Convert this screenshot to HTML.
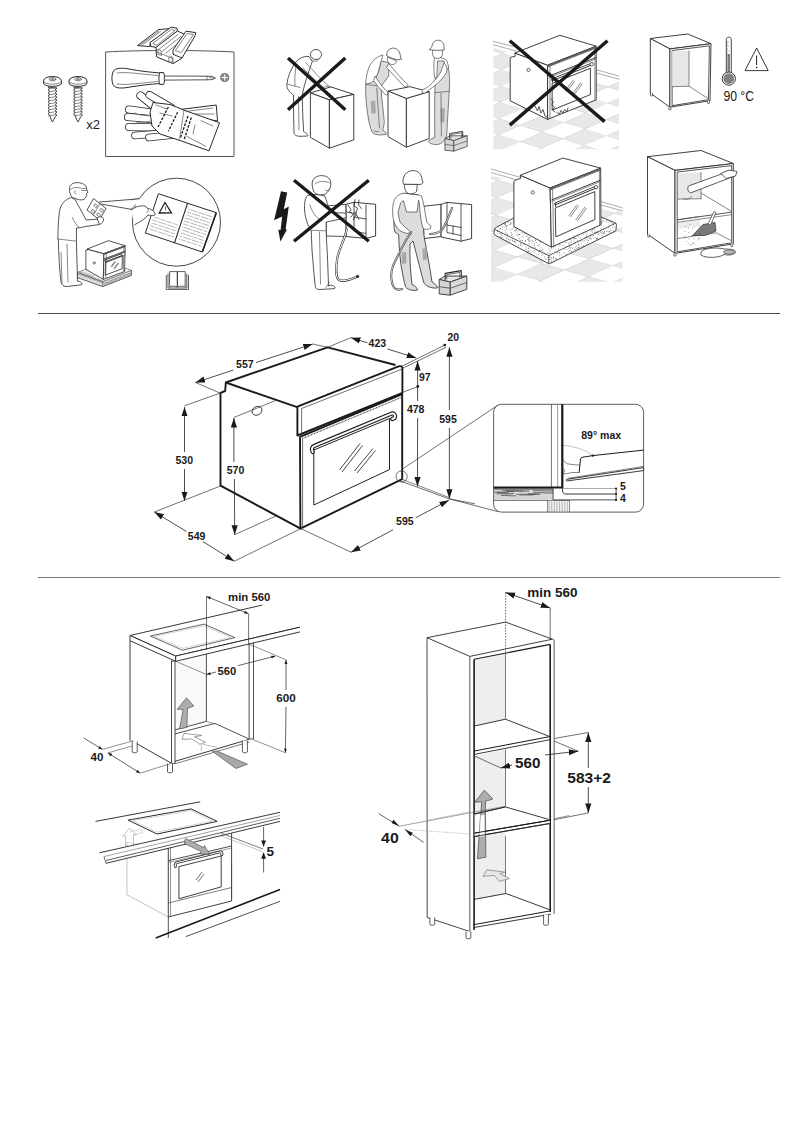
<!DOCTYPE html>
<html><head><meta charset="utf-8"><title>Installation</title>
<style>
html,body{margin:0;padding:0;background:#fff;width:802px;height:1134px;overflow:hidden}
svg{position:absolute;left:0;top:0;display:block}
text{font-family:"Liberation Sans",sans-serif}
.b{font-weight:bold;fill:#1a1a1a}
.n{fill:#1a1a1a}
.l{stroke:#2a2a2a;stroke-width:1;fill:none;stroke-linejoin:round;stroke-linecap:round}
.w{stroke:#2a2a2a;stroke-width:1;fill:#fff;stroke-linejoin:round}
.t{stroke:#555;stroke-width:.7;fill:none;stroke-linejoin:round;stroke-linecap:round}
.k{stroke:#1a1a1a;stroke-width:2;fill:none;stroke-linejoin:round;stroke-linecap:round}
.x{stroke:#1a1a1a;stroke-width:3.4;fill:none;stroke-linecap:butt}
</style></head>
<body>
<svg width="802" height="1134" viewBox="0 0 802 1134">
<defs><pattern id="fl3" patternUnits="userSpaceOnUse" width="20.0" height="20.0" patternTransform="matrix(2.1900 -0.9600 2.1200 0.6700 519.5 141.6)"><rect width="20" height="20" fill="#fff"/><rect width="10" height="10" fill="#e8e8e8"/><rect x="10" y="10" width="10" height="10" fill="#e8e8e8"/><path d="M0,0 H20 M0,10 H20 M0,0 V20 M10,0 V20" stroke="#c8c8c8" stroke-width=".3" fill="none"/></pattern><pattern id="fl7" patternUnits="userSpaceOnUse" width="20.0" height="20.0" patternTransform="matrix(2.4300 -1.0900 2.3500 0.6600 516.7 274.3)"><rect width="20" height="20" fill="#fff"/><rect width="10" height="10" fill="#e8e8e8"/><rect x="10" y="10" width="10" height="10" fill="#e8e8e8"/><path d="M0,0 H20 M0,10 H20 M0,0 V20 M10,0 V20" stroke="#c8c8c8" stroke-width=".3" fill="none"/></pattern><pattern id="spk" patternUnits="userSpaceOnUse" width="5" height="5"><rect width="5" height="5" fill="#fff"/><rect x="1.4" y="0.7" width=".6" height=".6" fill="#333"/><rect x="2.9" y="0.3" width=".6" height=".6" fill="#333"/><rect x="2.4" y="1.6" width=".6" height=".6" fill="#333"/><rect x="0.3" y="2.2" width=".6" height=".6" fill="#333"/><rect x="0.2" y="1.9" width=".6" height=".6" fill="#333"/><rect x="0.3" y="0.4" width=".6" height=".6" fill="#333"/></pattern><clipPath id="slabc"><path d="M496,227.4 L513,218.5 L560,200.5 L614.8,222.6 C616.5,223.3 616.6,224.5 616.4,225.5 L615.9,230.9 L549.6,263.7 L548.7,263.7 L495.8,235.6 C494,234.6 493.8,233 494,231.5 L494.4,229.5 C494.7,228.5 495.2,227.9 496,227.4 Z"/></clipPath><clipPath id="pgL"><path d="M159.7,197.6 L184.1,205.8 L173.1,239.1 L148.8,230.6 Z"/></clipPath><clipPath id="pgR"><path d="M188.7,207.3 L212.9,215.1 L201.2,248.1 L177.7,240.7 Z"/></clipPath><marker id="ah" viewBox="0 0 10 10" refX="10" refY="5" markerWidth="9.5" markerHeight="9.5" orient="auto-start-reverse" markerUnits="userSpaceOnUse"><path d="M0,1.75 L10,5 L0,8.25 z" fill="#1a1a1a"/></marker><marker id="ahs" viewBox="0 0 10 10" refX="10" refY="5" markerWidth="4.2" markerHeight="4.2" orient="auto-start-reverse" markerUnits="userSpaceOnUse"><path d="M0,1.5 L10,5 L0,8.5 z" fill="#1a1a1a"/></marker></defs>
<rect x="38" y="313" width="742" height="1" fill="#474747"/>
<rect x="38" y="577" width="742" height="1" fill="#777777"/>
<g transform="translate(52.5,76)"><path class="w" d="M-9,5 C-9,-1 9,-1 9,5 L9,7 C9,11.5 -9,11.5 -9,7 Z"/><path class="t" d="M-8.5,6 C-6,9 6,9 8.5,6"/><ellipse class="t" cx="0" cy="3.2" rx="3.4" ry="1.7"/><path class="t" d="M-2,3.2 H2 M0,2 V4.4"/><path class="w" d="M-4.4,11 L-2.7,12.5 L-4.4,14 L-2.7,15.5 L-4.4,17 L-2.7,18.5 L-4.4,20 L-2.7,21.5 L-4.4,23 L-2.7,24.5 L-4.4,26 L-2.7,27.5 L-4.4,29 L-2.7,30.5 L-4.4,32 L-2.7,33.5 L-4.4,35 L-2.7,36.5 L-4.4,38 L-2.7,39.5 L-1.6,43 L0,46 L1.6,43 L2.7,40.7 L4.4,39.2 L2.7,37.7 L4.4,36.2 L2.7,34.7 L4.4,33.2 L2.7,31.7 L4.4,30.2 L2.7,28.7 L4.4,27.2 L2.7,25.7 L4.4,24.2 L2.7,22.7 L4.4,21.2 L2.7,19.7 L4.4,18.2 L2.7,16.7 L4.4,15.2 L2.7,13.7 L4.4,12.2 Z" style="stroke-width:.85;stroke:#222"/><line class="t" x1="-3.8" y1="12.8" x2="3.8" y2="11.6" /><line class="t" x1="-3.8" y1="15.8" x2="3.8" y2="14.6" /><line class="t" x1="-3.8" y1="18.8" x2="3.8" y2="17.6" /><line class="t" x1="-3.8" y1="21.8" x2="3.8" y2="20.6" /><line class="t" x1="-3.8" y1="24.8" x2="3.8" y2="23.6" /><line class="t" x1="-3.8" y1="27.8" x2="3.8" y2="26.6" /><line class="t" x1="-3.8" y1="30.8" x2="3.8" y2="29.6" /><line class="t" x1="-3.8" y1="33.8" x2="3.8" y2="32.6" /><line class="t" x1="-3.8" y1="36.8" x2="3.8" y2="35.6" /><line class="t" x1="-3.8" y1="39.8" x2="3.8" y2="38.6" /></g>
<g transform="translate(78,76)"><path class="w" d="M-9,5 C-9,-1 9,-1 9,5 L9,7 C9,11.5 -9,11.5 -9,7 Z"/><path class="t" d="M-8.5,6 C-6,9 6,9 8.5,6"/><ellipse class="t" cx="0" cy="3.2" rx="3.4" ry="1.7"/><path class="t" d="M-2,3.2 H2 M0,2 V4.4"/><path class="w" d="M-4.4,11 L-2.7,12.5 L-4.4,14 L-2.7,15.5 L-4.4,17 L-2.7,18.5 L-4.4,20 L-2.7,21.5 L-4.4,23 L-2.7,24.5 L-4.4,26 L-2.7,27.5 L-4.4,29 L-2.7,30.5 L-4.4,32 L-2.7,33.5 L-4.4,35 L-2.7,36.5 L-4.4,38 L-2.7,39.5 L-1.6,43 L0,46 L1.6,43 L2.7,40.7 L4.4,39.2 L2.7,37.7 L4.4,36.2 L2.7,34.7 L4.4,33.2 L2.7,31.7 L4.4,30.2 L2.7,28.7 L4.4,27.2 L2.7,25.7 L4.4,24.2 L2.7,22.7 L4.4,21.2 L2.7,19.7 L4.4,18.2 L2.7,16.7 L4.4,15.2 L2.7,13.7 L4.4,12.2 Z" style="stroke-width:.85;stroke:#222"/><line class="t" x1="-3.8" y1="12.8" x2="3.8" y2="11.6" /><line class="t" x1="-3.8" y1="15.8" x2="3.8" y2="14.6" /><line class="t" x1="-3.8" y1="18.8" x2="3.8" y2="17.6" /><line class="t" x1="-3.8" y1="21.8" x2="3.8" y2="20.6" /><line class="t" x1="-3.8" y1="24.8" x2="3.8" y2="23.6" /><line class="t" x1="-3.8" y1="27.8" x2="3.8" y2="26.6" /><line class="t" x1="-3.8" y1="30.8" x2="3.8" y2="29.6" /><line class="t" x1="-3.8" y1="33.8" x2="3.8" y2="32.6" /><line class="t" x1="-3.8" y1="36.8" x2="3.8" y2="35.6" /><line class="t" x1="-3.8" y1="39.8" x2="3.8" y2="38.6" /></g>
<text class="n" x="86.2" y="128.9" font-size="13.6" text-anchor="start"  textLength="13.8" lengthAdjust="spacingAndGlyphs">x2</text>
<path class="l" d="M106,52 C140,50 200,50 234,52 L234,156.5 L106,156.5 Z" style="stroke:#555"/>
<path class="w" d="M137.5,45.6 L158.5,29.6 L170,28.6 L150.3,42.6 L149.8,46.6 Z" /><line class="t" x1="140.5" y1="44.8" x2="158.8" y2="31.2" /><line class="t" x1="142.5" y1="44.8" x2="160.5" y2="31.5" /><path class="w" d="M150.3,42.4 L171,27.2 L177,28.2 L177.4,31 L171,36 L157.2,47.6 L150.8,46.4 Z" /><path class="t" d="M153,43.2 L171.2,29.6 L175.2,30.4 L157,45 Z" /><path class="w" d="M156.2,47.2 L177.4,31 L186,35 L182,58.2 L173,63.6 L156.8,57 L156.2,52 Z" /><line class="t" x1="158" y1="50" x2="178" y2="34.5" /><line class="t" x1="162" y1="51.5" x2="181" y2="36.5" /><line class="t" x1="166" y1="53" x2="184" y2="38.5" /><line class="t" x1="156.5" y1="52" x2="173" y2="58.5" /><line class="t" x1="173" y1="58.5" x2="173" y2="63.5" /><path class="w" d="M173,50 L186,31.2 L195.6,32.6 L195.2,35.6 L182,58 L173,54.3 Z" /><path class="t" d="M175.5,50.3 L187,33.5 L193.5,34.5 L181.5,52.3 Z" /><path class="t" d="M169,57.6 L172,56.5 L172.5,61.5 L169.5,62.5 Z" /><path class="t" d="M158,49.5 L161,50.5 L161.5,55.5 L158.5,54.5 Z" />
<path class="w" d="M113,72 C115,67.5 122,67.6 130,69.2 C140,71 150,72.3 160.5,73 L160.5,83.6 C150,84 140,85.5 130,87 C122,88.6 115,88.8 113,84.5 C111.5,81 111.5,75.5 113,72 Z"/>
<path class="t" d="M117,73 C125,71.5 140,74 158,75.5 M117,84 C125,85.5 140,83 158,81.5"/>
<path class="w" d="M159.8,72.6 L163.6,72.6 C165,75 165,82 163.6,84.4 L159.8,84.4 C158.6,82 158.6,75 159.8,72.6 Z"/>
<path class="w" style="stroke-width:.8" d="M164.3,76 L207,76.2 L212,76.4 L215.4,78 L212,79.6 L207,79.8 L164.3,80.1 Z"/>
<line class="t" x1="207" y1="76" x2="207" y2="80.2" />
<line class="t" x1="209" y1="77" x2="213.5" y2="78.5" />
<circle cx="224.7" cy="77.5" r="4.1" fill="#8a8a8a" stroke="#444" stroke-width=".6"/>
<path d="M221.6,77.5 H227.8 M224.7,74.4 V80.6" stroke="#fff" stroke-width="1.1"/>
<path class="w" d="M180,109.5 L216.2,105 L217.6,121 L200,118 L182,113 Z" />
<line class="t" x1="185" y1="111.5" x2="213" y2="108" />
<line class="t" x1="190" y1="114" x2="214" y2="114" />
<path d="M129,109.5 L154,113" stroke="#2a2a2a" stroke-width="8" stroke-linecap="round" fill="none"/><path d="M129,109.5 L154,113" stroke="#fff" stroke-width="6.4" stroke-linecap="round" fill="none"/>
<path d="M128,117 L157,119.5" stroke="#2a2a2a" stroke-width="8.2" stroke-linecap="round" fill="none"/><path d="M128,117 L157,119.5" stroke="#fff" stroke-width="6.6" stroke-linecap="round" fill="none"/>
<path d="M129,127 L157,127.5" stroke="#2a2a2a" stroke-width="8" stroke-linecap="round" fill="none"/><path d="M129,127 L157,127.5" stroke="#fff" stroke-width="6.4" stroke-linecap="round" fill="none"/>
<path d="M135,135.5 L160,133.5" stroke="#2a2a2a" stroke-width="7.6" stroke-linecap="round" fill="none"/><path d="M135,135.5 L160,133.5" stroke="#fff" stroke-width="6" stroke-linecap="round" fill="none"/>
<path d="M149,137.5 L173,135" stroke="#2a2a2a" stroke-width="7.6" stroke-linecap="round" fill="none"/><path d="M149,137.5 L173,135" stroke="#fff" stroke-width="6" stroke-linecap="round" fill="none"/>
<path d="M140.5,95.5 L162,113" stroke="#2a2a2a" stroke-width="8.2" stroke-linecap="round" fill="none"/><path d="M140.5,95.5 L162,113" stroke="#fff" stroke-width="6.6" stroke-linecap="round" fill="none"/>
<path d="M149.5,95 L171,107.5" stroke="#2a2a2a" stroke-width="8" stroke-linecap="round" fill="none"/><path d="M149.5,95 L171,107.5" stroke="#fff" stroke-width="6.4" stroke-linecap="round" fill="none"/>
<path class="w" d="M153,102.5 L170,104.5 L178,107.6 L184,110.2 L219.5,122.7 L209,150.8 L180,140.5 L160,134 L152,126 L150,112 Z" />
<path d="M156,105 L167,109 M160,113 L172,116" class="t"/>
<line class="t" x1="184" y1="110.2" x2="179.6" y2="139" />
<path d="M168.4,107 L158,127 M177.6,112.2 L168.4,131.2 M188,116 L180.2,138.4 M191.3,117.5 L184.1,139.7" stroke="#1a1a1a" stroke-width="1.3" fill="none" stroke-dasharray="2.6,1.4"/>
<line class="t" x1="201" y1="120.7" x2="213" y2="126" />
<line class="t" x1="186.8" y1="136.4" x2="205.7" y2="146.2" />
<line class="t" x1="195" y1="125" x2="193" y2="134" />
<path class="t" d="M135,113 C140,116 144,115 150,116 M134,124 C140,121 146,123 150,121"/>
<ellipse class="w" cx="316" cy="54.5" rx="5.6" ry="5" style="stroke-width:.8"/><path class="w" style="stroke-width:.8" d="M309,56.5 C303,56 298,58.5 294.5,64 C290.5,70 287.5,77.5 286.8,84.5 C286.8,89 289.5,92.5 293.5,95 L293.6,116 L294,131.8 C293.6,134.5 296,136.3 300,136.3 L307.6,136 C308.4,134.4 306,133 303.6,131.6 L302.8,116 L302.2,96 C303,90 305.2,82 308,74 C309.2,70 311,65 312.4,61.5 Z"/><path class="t" d="M287,84 L300,87.5 M298.5,96.5 L299,130 M306,63 C313,70 321,80 329,86.5 M303,68 C310,75 318,83 326,89.5 M296,66 C295,73 294.5,80 295,86"/><path class="t" d="M311,59.5 C313,62 317,62 319,59.5"/><path class="w" d="M310.4,92.9 L330.9,86.9 L353.8,94.4 L329.4,99.9 Z" style="stroke-width:.9"/><path class="w" d="M310.4,92.9 L329.4,99.9 L329.4,148.2 L310.4,137.3 Z" style="stroke-width:.9"/><path class="w" d="M329.4,99.9 L353.8,94.4 L353.8,139.8 L329.4,148.2 Z" style="stroke-width:.9"/><path class="t" d="M322,88.5 C325,86 329,85.5 331,87"/><line class="x" x1="288" y1="58" x2="345.3" y2="109.8" /><line class="x" x1="345.3" y1="58" x2="288" y2="109.8" /><path style="fill:#dcdcdc;stroke:#555;stroke-width:.75;stroke-linejoin:round" d="M365.6,84.3 C365.4,95 366.5,110 369,122 C370,127 371.5,131 372.8,133 C375.5,135.2 381,135.4 386.2,134.4 C386.6,132.6 384.5,131.2 382.6,130.2 C383.2,128 384,126 384.3,122 L382.5,104 C381.5,98 381.5,92 381.2,86.1 L388.7,76 L388.7,62.5 L381,61 L378.5,72 C376,78 372,82 365.6,84.3 Z"/><path style="fill:#a9a9a9" d="M370.6,101 L375.2,100.4 L375.8,113.6 L371.4,113.4 Z"/><path class="t" d="M376.8,88 C377.5,100 378.5,115 379.5,128 M381.2,86.1 L366,84.5"/><path style="fill:#fff;stroke:#555;stroke-width:.75;stroke-linejoin:round" d="M383,55 C378,56 373,60 370,65 C367.5,70 366,77 365.6,84.3 C369,83.5 372,82.5 374.5,80.5 C376,78 377.5,74 378.5,71 L381,61.5 Z"/><path style="fill:#fff;stroke:#555;stroke-width:.75;stroke-linejoin:round" d="M388.7,63.5 C394,70 400,77 405,82 C407,83 408.5,84.5 407.8,86.2 C406,87 404.5,86.8 403.5,85.8 C398,80 392,73 386.5,67.5 Z"/><path style="fill:#fff;stroke:#555;stroke-width:.75;stroke-linejoin:round" d="M375.2,76 C378,81 382,86.5 385.5,90 C387.5,91.2 388.8,92.5 388,94.6 C386,95.2 384.5,94.2 383.6,92.6 C380,89 376.5,85 373.5,80.5 Z"/><path style="fill:#fff;stroke:#555;stroke-width:.75" d="M387.4,57 C386.8,60.5 388.5,63.8 391.5,64.6 C394,65 396,63.5 396.6,61 Z"/><path style="fill:#fff;stroke:#444;stroke-width:.8;stroke-linejoin:round" d="M386.6,55.6 C386.8,50.5 390,48 393.8,48.1 C397.8,48.4 400.4,52 400.5,57.5 L401.6,59.2 C399,60.8 392,58.8 386.6,55.6 Z"/><path class="t" d="M373.7,130.5 C375,131.5 377,132 379,131.6"/><path class="w" d="M388,91.1 L409.9,86.7 L429.2,91.7 L406.4,98.6 Z" style="stroke-width:.9"/><path class="w" d="M388,91.1 L406.4,98.6 L406.4,147.2 L388,136.6 Z" style="stroke-width:.9"/><path class="w" d="M406.4,98.6 L429.2,91.7 L429.2,138.5 L406.4,147.2 Z" style="stroke-width:.9"/><path style="fill:#dcdcdc;stroke:#555;stroke-width:.75;stroke-linejoin:round" d="M436.5,60 L446,60.5 C448.5,66 449.8,74 449.6,84 L449.2,92 C448.4,105 447.5,120 446.8,134 C446,140.5 441.5,144.2 436.8,144.6 C432.5,144.8 428.6,143 428.4,141 C429.5,139.6 432.5,138.7 434.8,137.3 C434.6,122 434.6,106 434.8,92.4 L435.5,75 Z"/><path style="fill:#a9a9a9" d="M440.4,108.6 L444.8,108.2 L444.5,122.3 L440.6,122.6 Z"/><path class="t" d="M435,92.6 L449,91.4 M441,93 L441.4,136"/><path style="fill:#fff;stroke:#555;stroke-width:.75;stroke-linejoin:round" d="M434.8,57.6 C433.5,62 433.8,70 434.6,78 L436.8,78 L437.5,61 L444,61 L445.6,70 L448.6,68 C448,63.5 447,60.5 445.8,59.5 C442,57.5 438,57 434.8,57.6 Z"/><path style="fill:#fff;stroke:#555;stroke-width:.75;stroke-linejoin:round" d="M444,63 C446.5,65 447.5,69 446.5,72.5 C443.5,78 437,84.5 430,89.2 C428,90.5 426.5,92.5 424.2,93.2 C422.2,93 421.6,91 423,89.6 C425,88.8 427,87.6 428.8,86.3 C434,81.5 438.5,76.5 441,71.5 Z"/><path style="fill:#fff;stroke:#555;stroke-width:.75;stroke-linejoin:round" d="M433.2,49.5 C432,52 432.5,55 433.2,56 C433.6,57.5 435.5,58.6 438,58.4 C440.5,58.2 442,56.5 442.5,54 L442.3,49.5 Z"/><path style="fill:#fff;stroke:#444;stroke-width:.8;stroke-linejoin:round" d="M429.2,49.6 C430.6,48.6 431.6,47.6 432,46.2 C432.6,42 435.5,40 438.6,40.2 C442,40.5 444,43.4 444,47.2 L444.2,50 C440,50.5 434,50.5 429.2,49.6 Z"/><g transform="translate(444.9,131.7) scale(1.0)"><path class="w" d="M0,6.8 L4.8,4.1 L22.3,4.1 L8.9,8.9 Z" style="fill:#e6e6e6;stroke:#444;stroke-width:.8"/><path class="w" d="M0,6.8 L8.9,8.9 L8.9,19.5 L0,18.5 Z" style="fill:#d4d4d4;stroke:#444;stroke-width:.8"/><path class="w" d="M8.9,8.9 L22.3,4.1 L22.3,14.7 L8.9,19.5 Z" style="fill:#dadada;stroke:#444;stroke-width:.8"/><line class="t" x1="0" y1="12.7" x2="8.9" y2="13.9" /><line class="t" x1="8.9" y1="13.9" x2="22.3" y2="9.3" /><path class="l" d="M4.8,6.8 L4.8,1.9 L17.8,-0.3 L17.8,4.8" style="stroke-width:.9"/><path class="t" d="M6.1,6.3 L6.1,2.9 L16.6,1.1 L16.6,4.8" /></g>
<path d="M493.5,48 L597,75.5 L619,80.5 L619,149.3 L493.5,149.3 Z" fill="url(#fl3)"/>
<path class="t" d="M493.2,41.3 L517,47.5 M493.5,44.8 L516,51 M597,70 L619,76 M597,73.2 L619,79.2" style="stroke:#888"/>
<path class="w" d="M514.9,53 L547.6,65.2 L547.6,119.4 L510.2,100.8 L510.2,59.1 L510.7,57.6 L511.7,57.1 L515.2,56.2 Z" style="stroke-width:0.9"/><path class="w" d="M514.9,53 L559.8,35.3 L596.2,46.2 L547.6,65.2 Z" style="stroke-width:0.9"/><path class="w" d="M547.6,65.2 L596.2,46.2 L596.2,99.8 L547.6,119.4 Z" style="stroke-width:0.9"/><line class="t" x1="550" y1="64.3" x2="550" y2="118.5" /><line class="t" x1="594.9" y1="47.4" x2="594.9" y2="99.6" /><path class="l" d="M549.1,76 L595.7,57.6" style="stroke-width:0.9"/><path class="t" d="M549.1,77.4 L595.7,59" /><path class="t" d="M547.6,67.1 L596.2,48.1" /><path class="l" d="M548.1,66 L595.7,47.4" stroke-dasharray=".8,.7" style="stroke-width:1.2;stroke:#555"/><path class="l" d="M552.5,83.3 L590.4,68.3 L590.4,94.6 L552.5,109.9 Z" style="stroke-width:0.9"/><path class="l" d="M552.5,79.5 L591.3,64.2" style="stroke-width:2.6;stroke:#333"/><path class="l" d="M552.5,79.5 L591.3,64.2" style="stroke-width:1.0;stroke:#fff"/><path class="l" d="M552.5,79.5 L552.5,82" style="stroke-width:1.1"/><circle cx="591.7" cy="64.2" r="1.7" fill="#fff" stroke="#333" stroke-width=".8"/><path class="t" d="M565.1,90.8 L572.9,80.6" /><path class="t" d="M566.6,91.8 L574.3,81.7" /><path class="t" d="M571.9,94.5 L580.6,82.9" /><path class="t" d="M573.4,95.5 L582.1,84" /><circle class="w" cx="528.5" cy="69.9" r="1.6" style="stroke-width:.7"/>
<path class="l" style="stroke-width:.8" d="M535,106 L537.5,111 L539,106.5 L541,113 L543,109.5 L545,116 L548,118 M551.4,99 L553.5,102 L551.8,104.5 L554.5,107 L552.5,110 L555,112 M557,112.5 L559.5,114 L561,110.5 L563,113 L564.5,109.5 L567,111.5 L568,108"/>
<line class="x" x1="509.8" y1="40.8" x2="604.6" y2="121.6" />
<line class="x" x1="607.5" y1="40.8" x2="509.8" y2="125.1" />
<path d="M491,175.5 L520,183 L600.7,206 L622.4,212.5 L622.4,281.8 L491,281.8 Z" fill="url(#fl7)"/>
<path class="t" d="M491.3,169 L519.4,177.1 M491.3,172.6 L519,180.5 M600.7,201.5 L622.4,207.9 M600.7,204.8 L622.4,211" style="stroke:#888"/>
<path d="M496,227.4 L513,218.5 L560,200.5 L614.8,222.6 C616.5,223.3 616.6,224.5 616.4,225.5 L615.9,230.9 L549.6,263.7 L548.7,263.7 L495.8,235.6 C494,234.6 493.8,233 494,231.5 L494.4,229.5 C494.7,228.5 495.2,227.9 496,227.4 Z" fill="#fff"/>
<path clip-path="url(#slabc)" fill="#2e2e2e" d="M570.1,248.4h.6v.6h-.6zM591.3,260.9h.6v.6h-.6zM584.5,259.6h.6v.6h-.6zM497.1,231.1h.6v.6h-.6zM609.5,242.6h.6v.6h-.6zM604.3,209.1h.6v.6h-.6zM551.2,217.4h.6v.6h-.6zM560.4,237.9h.6v.6h-.6zM495.1,215.5h.6v.6h-.6zM527.9,259.3h.6v.6h-.6zM587.7,212h.6v.6h-.6zM591.5,210.7h.6v.6h-.6zM569.4,209.9h.6v.6h-.6zM493.7,256.5h.6v.6h-.6zM519.3,215.5h.6v.6h-.6zM614.3,256.5h.6v.6h-.6zM529.1,262.1h.6v.6h-.6zM559.8,244.4h.6v.6h-.6zM518.7,260.8h.6v.6h-.6zM578.4,262.4h.6v.6h-.6zM603.4,220.7h.6v.6h-.6zM537.9,212.4h.6v.6h-.6zM511.4,206.1h.6v.6h-.6zM530.6,239.7h.6v.6h-.6zM493.9,244.4h.6v.6h-.6zM535.1,221.4h.6v.6h-.6zM594.2,232h.6v.6h-.6zM532.3,232.1h.6v.6h-.6zM580.2,205.6h.6v.6h-.6zM613.4,203.4h.6v.6h-.6zM585.7,254.8h.6v.6h-.6zM495.7,251.2h.6v.6h-.6zM538.5,238.2h.6v.6h-.6zM494.6,204.9h.6v.6h-.6zM515.8,261.7h.6v.6h-.6zM517.7,249.2h.6v.6h-.6zM607.8,260.9h.6v.6h-.6zM535.9,224.2h.6v.6h-.6zM558,250.5h.6v.6h-.6zM506.8,248.8h.6v.6h-.6zM591.6,255.7h.6v.6h-.6zM498,261.1h.6v.6h-.6zM504.7,223.3h.6v.6h-.6zM568.6,259.4h.6v.6h-.6zM535.3,259.8h.6v.6h-.6zM560.6,221.5h.6v.6h-.6zM532.5,213.1h.6v.6h-.6zM503.1,211.3h.6v.6h-.6zM578.3,264.3h.6v.6h-.6zM513.4,205h.6v.6h-.6zM614.9,235.3h.6v.6h-.6zM543.4,216.8h.6v.6h-.6zM566.6,253.6h.6v.6h-.6zM549.5,228.4h.6v.6h-.6zM500.4,259.3h.6v.6h-.6zM497.5,232.8h.6v.6h-.6zM596.6,210.2h.6v.6h-.6zM583.5,261.4h.6v.6h-.6zM571,251.3h.6v.6h-.6zM506.6,229.2h.6v.6h-.6zM511.9,254.8h.6v.6h-.6zM529.8,230.3h.6v.6h-.6zM616.4,255.3h.6v.6h-.6zM613.5,230.3h.6v.6h-.6zM553.5,247.6h.6v.6h-.6zM552.4,220.2h.6v.6h-.6zM543.2,211.2h.6v.6h-.6zM539.9,263.8h.6v.6h-.6zM611.6,241.2h.6v.6h-.6zM554.9,223.2h.6v.6h-.6zM504.5,219h.6v.6h-.6zM589.7,256.2h.6v.6h-.6zM537.9,251.1h.6v.6h-.6zM588.8,245.4h.6v.6h-.6zM575.2,249.5h.6v.6h-.6zM538.2,246h.6v.6h-.6zM528,232.4h.6v.6h-.6zM588.2,245.2h.6v.6h-.6zM529.6,261.1h.6v.6h-.6zM573.4,238.3h.6v.6h-.6zM494.9,236.2h.6v.6h-.6zM524.3,244h.6v.6h-.6zM550.4,253h.6v.6h-.6zM573.1,251.9h.6v.6h-.6zM536.3,242.3h.6v.6h-.6zM584.3,253.8h.6v.6h-.6zM536.6,254.7h.6v.6h-.6zM600.5,245h.6v.6h-.6zM613.6,261.8h.6v.6h-.6zM557.2,235.1h.6v.6h-.6zM513.9,254.3h.6v.6h-.6zM608.8,231.8h.6v.6h-.6zM578.5,247h.6v.6h-.6zM583.3,212.7h.6v.6h-.6zM589.5,238.3h.6v.6h-.6zM575.4,228.3h.6v.6h-.6zM570.2,250.4h.6v.6h-.6zM571.8,247h.6v.6h-.6zM496.9,212h.6v.6h-.6zM547.8,242.6h.6v.6h-.6zM520.4,244.9h.6v.6h-.6zM571.1,204.6h.6v.6h-.6zM551.5,216.1h.6v.6h-.6zM500.2,210.3h.6v.6h-.6zM532.5,213.3h.6v.6h-.6zM517.3,204.2h.6v.6h-.6zM550.7,225.8h.6v.6h-.6zM568.8,238.9h.6v.6h-.6zM522.8,258.4h.6v.6h-.6zM493.6,227.3h.6v.6h-.6zM527.8,227.6h.6v.6h-.6zM507.7,254h.6v.6h-.6zM539.5,204.3h.6v.6h-.6zM569,207.9h.6v.6h-.6zM560.6,223.2h.6v.6h-.6zM565,261.9h.6v.6h-.6zM594.2,228.2h.6v.6h-.6zM593.5,242.1h.6v.6h-.6zM538.9,210.9h.6v.6h-.6zM566.8,237.2h.6v.6h-.6zM611.2,262.5h.6v.6h-.6zM568.4,223.9h.6v.6h-.6zM603.4,202.1h.6v.6h-.6zM506.8,237.4h.6v.6h-.6zM569.2,210.8h.6v.6h-.6zM570.9,257.7h.6v.6h-.6zM539.7,229h.6v.6h-.6zM521.3,220.2h.6v.6h-.6zM613.1,225.7h.6v.6h-.6zM611.7,259.1h.6v.6h-.6zM566.8,218.2h.6v.6h-.6zM614.2,233h.6v.6h-.6zM544.6,221.9h.6v.6h-.6zM614.6,232.7h.6v.6h-.6zM528.7,231.8h.6v.6h-.6zM508.5,240.9h.6v.6h-.6zM548,220.3h.6v.6h-.6zM589.6,253.7h.6v.6h-.6zM495.1,235.3h.6v.6h-.6zM527.2,260.5h.6v.6h-.6zM589.7,217.4h.6v.6h-.6zM526.4,211.7h.6v.6h-.6zM615.1,220.3h.6v.6h-.6zM568.3,231.7h.6v.6h-.6zM572.8,239.7h.6v.6h-.6zM584.9,209.4h.6v.6h-.6zM587,220.8h.6v.6h-.6zM559.1,223h.6v.6h-.6zM530,235.1h.6v.6h-.6zM550.6,224.6h.6v.6h-.6zM585.1,238.9h.6v.6h-.6zM498,217.8h.6v.6h-.6zM549.5,259.3h.6v.6h-.6zM602.7,236.1h.6v.6h-.6zM495.3,250.6h.6v.6h-.6zM546.1,238h.6v.6h-.6zM580.6,241.5h.6v.6h-.6zM552.8,259h.6v.6h-.6zM540.9,226.5h.6v.6h-.6zM598.3,214.3h.6v.6h-.6zM530,253.9h.6v.6h-.6zM501.6,254.3h.6v.6h-.6zM578.9,229.1h.6v.6h-.6zM528.7,250.8h.6v.6h-.6zM605.5,210.9h.6v.6h-.6zM552.3,236.3h.6v.6h-.6zM554.7,222.7h.6v.6h-.6zM512.4,238.6h.6v.6h-.6zM593.4,206.3h.6v.6h-.6zM521.8,253.2h.6v.6h-.6zM590.9,243.5h.6v.6h-.6zM496.6,247.2h.6v.6h-.6zM613.9,264.4h.6v.6h-.6zM579.8,205.1h.6v.6h-.6zM597.1,215.7h.6v.6h-.6zM572.9,261.5h.6v.6h-.6zM581.1,210.4h.6v.6h-.6zM529.5,259.4h.6v.6h-.6zM511.9,240.2h.6v.6h-.6zM544.4,212.1h.6v.6h-.6zM570.1,204.7h.6v.6h-.6zM506.8,225.7h.6v.6h-.6zM502.4,205.6h.6v.6h-.6zM564.3,248.4h.6v.6h-.6zM601.6,210.4h.6v.6h-.6zM546.6,221.7h.6v.6h-.6zM567.3,232.6h.6v.6h-.6zM608.9,225.4h.6v.6h-.6zM500.4,245.6h.6v.6h-.6zM512.1,241.5h.6v.6h-.6zM555.7,258.9h.6v.6h-.6zM561.8,240.8h.6v.6h-.6zM525.9,236.5h.6v.6h-.6zM524.8,248.9h.6v.6h-.6zM557.1,210.4h.6v.6h-.6zM522.3,225.2h.6v.6h-.6zM584.1,213.2h.6v.6h-.6zM581.2,242.9h.6v.6h-.6zM504,243.7h.6v.6h-.6zM504.7,209.8h.6v.6h-.6zM566.6,216.9h.6v.6h-.6zM601.4,232h.6v.6h-.6zM533.3,251.8h.6v.6h-.6zM497.1,247.3h.6v.6h-.6zM500.1,211.4h.6v.6h-.6zM610.6,244.6h.6v.6h-.6zM520.9,209.3h.6v.6h-.6zM613.1,243.6h.6v.6h-.6zM594.4,210.7h.6v.6h-.6zM570.4,224.1h.6v.6h-.6zM522.4,222.8h.6v.6h-.6zM569,223.8h.6v.6h-.6zM540.9,210.5h.6v.6h-.6zM595.7,242.5h.6v.6h-.6zM592.5,229.1h.6v.6h-.6zM598.2,234.3h.6v.6h-.6zM566.4,237.8h.6v.6h-.6zM584.5,226.7h.6v.6h-.6zM505.4,204.1h.6v.6h-.6zM518.4,204.5h.6v.6h-.6zM602.9,232.1h.6v.6h-.6zM587,202h.6v.6h-.6zM551.3,257.6h.6v.6h-.6zM569.7,228.8h.6v.6h-.6zM550.8,208.2h.6v.6h-.6zM512.5,211.9h.6v.6h-.6zM539.6,226.1h.6v.6h-.6zM601.8,211.5h.6v.6h-.6zM524.8,219.3h.6v.6h-.6zM513.4,219.9h.6v.6h-.6zM522.4,232.1h.6v.6h-.6zM497.4,259.8h.6v.6h-.6zM538.9,260.6h.6v.6h-.6zM578.1,244.1h.6v.6h-.6zM551.5,261.1h.6v.6h-.6zM508,243.8h.6v.6h-.6zM529.3,244.2h.6v.6h-.6zM583.2,212.2h.6v.6h-.6zM518.2,203.6h.6v.6h-.6zM521.8,206.9h.6v.6h-.6zM542.8,262.8h.6v.6h-.6zM538.3,221.5h.6v.6h-.6zM551.1,219.7h.6v.6h-.6zM583.6,246.9h.6v.6h-.6zM513.6,217h.6v.6h-.6zM576.2,260.8h.6v.6h-.6zM572.9,228.9h.6v.6h-.6zM613.5,202.4h.6v.6h-.6zM501,250.7h.6v.6h-.6zM544,204.8h.6v.6h-.6zM561,263.9h.6v.6h-.6zM557.3,223.9h.6v.6h-.6zM505,206.5h.6v.6h-.6zM604.1,232.7h.6v.6h-.6zM608.6,205.4h.6v.6h-.6zM523.4,205.2h.6v.6h-.6zM542.4,205.8h.6v.6h-.6zM524.9,227.5h.6v.6h-.6zM531.1,205.2h.6v.6h-.6zM498.1,262.7h.6v.6h-.6zM515.6,233.8h.6v.6h-.6zM543,235.2h.6v.6h-.6zM503.9,221.6h.6v.6h-.6zM506.8,235.9h.6v.6h-.6zM606.8,239.4h.6v.6h-.6zM598.9,215.4h.6v.6h-.6zM495.6,235.7h.6v.6h-.6zM553.3,237.7h.6v.6h-.6zM539.8,241.1h.6v.6h-.6zM582.8,259.1h.6v.6h-.6zM531.3,230.1h.6v.6h-.6zM595.1,216h.6v.6h-.6zM507.7,221.5h.6v.6h-.6zM504.3,250.3h.6v.6h-.6zM594.3,221.6h.6v.6h-.6zM509.5,207.1h.6v.6h-.6zM523.6,207.3h.6v.6h-.6zM546.2,238.1h.6v.6h-.6zM523.7,205.8h.6v.6h-.6zM579.7,205h.6v.6h-.6zM518.1,219.9h.6v.6h-.6zM539.5,208.2h.6v.6h-.6zM545.2,221.6h.6v.6h-.6zM586,236.8h.6v.6h-.6zM603.7,242.9h.6v.6h-.6zM586.9,237.9h.6v.6h-.6zM547.9,253.1h.6v.6h-.6zM574.1,261.7h.6v.6h-.6zM583,245.8h.6v.6h-.6zM526.4,252.8h.6v.6h-.6zM540.5,210.1h.6v.6h-.6zM501.6,212.6h.6v.6h-.6zM525.8,244.2h.6v.6h-.6zM528.6,206h.6v.6h-.6zM587.4,236.8h.6v.6h-.6zM496.9,205.2h.6v.6h-.6zM509.5,224.3h.6v.6h-.6zM599.3,261.3h.6v.6h-.6zM568.8,216.4h.6v.6h-.6zM546.3,224.7h.6v.6h-.6zM534.1,202.8h.6v.6h-.6zM565.4,253.7h.6v.6h-.6zM582.9,208h.6v.6h-.6zM558.7,212.7h.6v.6h-.6zM580.8,229.9h.6v.6h-.6zM608.9,251.7h.6v.6h-.6zM508,221.8h.6v.6h-.6zM606,230.8h.6v.6h-.6zM546.9,229.6h.6v.6h-.6zM587.9,260.5h.6v.6h-.6zM559,262.6h.6v.6h-.6zM566.8,208.5h.6v.6h-.6zM593.7,228.2h.6v.6h-.6zM499.9,263.1h.6v.6h-.6zM497.5,238.1h.6v.6h-.6zM552.8,257.1h.6v.6h-.6zM541.8,215.5h.6v.6h-.6zM527.6,214.6h.6v.6h-.6zM562.7,224.3h.6v.6h-.6zM585.9,217.1h.6v.6h-.6zM536.8,217.5h.6v.6h-.6zM614.3,254.5h.6v.6h-.6zM598,240.6h.6v.6h-.6zM542.8,210.9h.6v.6h-.6zM595.8,232.6h.6v.6h-.6zM498.1,212.6h.6v.6h-.6zM505.6,246.9h.6v.6h-.6zM604.2,214.5h.6v.6h-.6zM591.5,222.3h.6v.6h-.6zM577.5,255.9h.6v.6h-.6zM570.1,252h.6v.6h-.6zM539.8,202.6h.6v.6h-.6zM556.4,238.7h.6v.6h-.6zM516.2,226.3h.6v.6h-.6zM532.5,203.7h.6v.6h-.6zM531.9,225.9h.6v.6h-.6zM552.1,246h.6v.6h-.6zM542.6,263.4h.6v.6h-.6zM593.8,259.7h.6v.6h-.6zM578.7,243.9h.6v.6h-.6zM559.5,251.9h.6v.6h-.6zM538.1,239.1h.6v.6h-.6zM577.1,234.6h.6v.6h-.6zM528.5,206.9h.6v.6h-.6zM504.2,224.2h.6v.6h-.6zM564.9,249.5h.6v.6h-.6zM581.4,221.2h.6v.6h-.6zM607.8,219.2h.6v.6h-.6zM581.6,206.5h.6v.6h-.6zM586.2,243.9h.6v.6h-.6zM611.2,258.1h.6v.6h-.6zM578.1,254.4h.6v.6h-.6zM584.3,240.2h.6v.6h-.6zM519.2,234.3h.6v.6h-.6zM603.7,216.9h.6v.6h-.6zM613.4,236h.6v.6h-.6zM541.9,202.2h.6v.6h-.6zM541.5,213.1h.6v.6h-.6zM573.8,258.2h.6v.6h-.6zM605.5,240.3h.6v.6h-.6zM541.1,208.8h.6v.6h-.6zM578.2,236.6h.6v.6h-.6zM581.5,225.4h.6v.6h-.6zM602.6,215.3h.6v.6h-.6zM531.1,218.7h.6v.6h-.6zM570,258.1h.6v.6h-.6zM514.1,241.6h.6v.6h-.6zM587.8,216h.6v.6h-.6zM501.2,237.4h.6v.6h-.6zM595.6,256.9h.6v.6h-.6zM583,228.1h.6v.6h-.6zM545.8,235h.6v.6h-.6zM604.8,220.9h.6v.6h-.6zM528,239.8h.6v.6h-.6zM612.4,213.7h.6v.6h-.6zM497.2,209.2h.6v.6h-.6zM562.7,239.7h.6v.6h-.6zM516.1,213.9h.6v.6h-.6zM566.6,242.4h.6v.6h-.6zM578.4,247.6h.6v.6h-.6zM501.1,232.3h.6v.6h-.6zM596.2,261.8h.6v.6h-.6zM532.7,255.1h.6v.6h-.6zM572.9,259.9h.6v.6h-.6zM521.7,245.6h.6v.6h-.6zM596.9,231.8h.6v.6h-.6zM505.9,214.1h.6v.6h-.6zM512.8,207.8h.6v.6h-.6zM512.2,240.5h.6v.6h-.6zM506.4,249.4h.6v.6h-.6zM584.1,253h.6v.6h-.6zM592.4,246.6h.6v.6h-.6zM607.2,261.8h.6v.6h-.6zM570.4,262.3h.6v.6h-.6zM506.2,208.4h.6v.6h-.6zM501.4,214.9h.6v.6h-.6zM539.6,230.7h.6v.6h-.6zM577.2,248.4h.6v.6h-.6zM503.8,227.2h.6v.6h-.6zM560.3,225.4h.6v.6h-.6zM508,239.3h.6v.6h-.6zM539.6,244.7h.6v.6h-.6zM554.4,262.2h.6v.6h-.6zM609.7,206.5h.6v.6h-.6zM587,247.1h.6v.6h-.6zM529.9,209.3h.6v.6h-.6zM552.4,224.1h.6v.6h-.6zM584.2,259.4h.6v.6h-.6zM540.5,220.2h.6v.6h-.6zM554.8,245.6h.6v.6h-.6zM590.5,238h.6v.6h-.6zM529.9,223.1h.6v.6h-.6zM597.8,234.5h.6v.6h-.6zM499.7,228.3h.6v.6h-.6zM522.8,243.6h.6v.6h-.6zM502.5,218.9h.6v.6h-.6zM505.3,231.8h.6v.6h-.6zM614.6,235.8h.6v.6h-.6zM541,260.4h.6v.6h-.6zM504.8,224.2h.6v.6h-.6zM593.2,202.3h.6v.6h-.6zM587.7,224.6h.6v.6h-.6zM495.5,217.7h.6v.6h-.6zM549.9,225.9h.6v.6h-.6zM557.1,205.3h.6v.6h-.6zM520.4,262.9h.6v.6h-.6zM547.9,231.5h.6v.6h-.6zM504,219.4h.6v.6h-.6zM610.9,244.9h.6v.6h-.6zM556,205.3h.6v.6h-.6zM541.8,250.7h.6v.6h-.6zM547,239.1h.6v.6h-.6zM604.5,242.3h.6v.6h-.6zM571.7,204.3h.6v.6h-.6zM496.4,250.1h.6v.6h-.6zM544.3,256.6h.6v.6h-.6zM595.1,259.2h.6v.6h-.6zM540.1,264.4h.6v.6h-.6zM586.5,257.7h.6v.6h-.6zM511.7,250.8h.6v.6h-.6zM545.4,262.8h.6v.6h-.6zM615.8,215.5h.6v.6h-.6zM545.3,218.9h.6v.6h-.6zM551.3,219.9h.6v.6h-.6zM575.5,209.7h.6v.6h-.6zM514.3,230.6h.6v.6h-.6zM502.6,225.8h.6v.6h-.6zM603.9,257.3h.6v.6h-.6zM517.7,203.2h.6v.6h-.6zM595.4,262h.6v.6h-.6zM567.2,210.5h.6v.6h-.6zM522.6,259.5h.6v.6h-.6zM608.8,203.9h.6v.6h-.6zM516.2,228.8h.6v.6h-.6zM526.3,249.1h.6v.6h-.6zM539.4,250.4h.6v.6h-.6zM512.2,234.4h.6v.6h-.6zM613.4,245.9h.6v.6h-.6zM504.6,208.9h.6v.6h-.6zM572.7,225.4h.6v.6h-.6zM538.8,231.9h.6v.6h-.6zM565,262.4h.6v.6h-.6zM523.1,237.5h.6v.6h-.6zM525.9,236.1h.6v.6h-.6zM583.5,210.3h.6v.6h-.6zM552.7,246.1h.6v.6h-.6zM494.5,250.2h.6v.6h-.6zM545,233.5h.6v.6h-.6zM568.6,251.6h.6v.6h-.6zM500.4,233.3h.6v.6h-.6zM498.2,226.1h.6v.6h-.6zM536,203.3h.6v.6h-.6zM530.1,230.1h.6v.6h-.6zM574,259.8h.6v.6h-.6zM539.1,235.1h.6v.6h-.6zM581.2,260.6h.6v.6h-.6zM610.3,263.8h.6v.6h-.6zM530.6,212.4h.6v.6h-.6zM608.1,206.8h.6v.6h-.6zM548.7,248h.6v.6h-.6zM558.5,226.3h.6v.6h-.6zM607.2,220.7h.6v.6h-.6zM561.4,253.9h.6v.6h-.6zM510.5,223.9h.6v.6h-.6zM554.3,237.4h.6v.6h-.6zM519,230.4h.6v.6h-.6zM500.9,207.5h.6v.6h-.6zM535.6,211h.6v.6h-.6zM612.5,218.5h.6v.6h-.6zM527.4,251h.6v.6h-.6zM584.7,218.4h.6v.6h-.6zM595.5,241.1h.6v.6h-.6zM541.3,241.3h.6v.6h-.6zM523.7,218.5h.6v.6h-.6zM601.3,229.4h.6v.6h-.6zM603.9,213.1h.6v.6h-.6zM510.4,205.2h.6v.6h-.6zM584.5,237.1h.6v.6h-.6zM494.7,204.7h.6v.6h-.6zM594.9,232.9h.6v.6h-.6zM600.7,204.5h.6v.6h-.6zM565.9,209.3h.6v.6h-.6zM582.2,240.2h.6v.6h-.6zM568.8,215.8h.6v.6h-.6zM610.2,208.9h.6v.6h-.6zM501.4,244.8h.6v.6h-.6zM504.9,206.2h.6v.6h-.6zM550.1,242.6h.6v.6h-.6zM603.2,247.1h.6v.6h-.6zM502,242.2h.6v.6h-.6zM597.3,209.5h.6v.6h-.6zM586.3,218.2h.6v.6h-.6zM530.2,202.1h.6v.6h-.6zM586.8,234.2h.6v.6h-.6zM604.4,231.1h.6v.6h-.6zM512.6,215.5h.6v.6h-.6zM525.9,261.2h.6v.6h-.6zM518.7,207.5h.6v.6h-.6zM536.9,206.9h.6v.6h-.6zM545.8,240.9h.6v.6h-.6zM573.5,212.9h.6v.6h-.6zM510.6,232.7h.6v.6h-.6zM578,229.9h.6v.6h-.6zM564,259h.6v.6h-.6zM511.3,218.7h.6v.6h-.6zM554.2,235.5h.6v.6h-.6zM604.2,236.7h.6v.6h-.6zM575,228.2h.6v.6h-.6zM590,254.2h.6v.6h-.6zM529.6,208.7h.6v.6h-.6zM525.4,224.3h.6v.6h-.6zM602.9,218.5h.6v.6h-.6zM570.9,242h.6v.6h-.6zM611.1,209.3h.6v.6h-.6zM588.2,223h.6v.6h-.6zM506.2,241.5h.6v.6h-.6zM597.4,238.4h.6v.6h-.6zM499.6,262.8h.6v.6h-.6zM540.7,241.8h.6v.6h-.6zM582.6,218.3h.6v.6h-.6zM543.7,222.6h.6v.6h-.6zM505.3,206h.6v.6h-.6zM581.7,227.7h.6v.6h-.6zM600.5,205.9h.6v.6h-.6zM530.6,213.3h.6v.6h-.6zM609.5,251.4h.6v.6h-.6zM603.8,233.6h.6v.6h-.6zM506.3,228h.6v.6h-.6zM521.3,203.7h.6v.6h-.6zM563,220.1h.6v.6h-.6zM506.8,234h.6v.6h-.6zM608.3,261.1h.6v.6h-.6zM550.8,208.4h.6v.6h-.6zM588.1,209.2h.6v.6h-.6zM559.6,207.2h.6v.6h-.6zM614.9,235.9h.6v.6h-.6zM547.3,219h.6v.6h-.6zM561.3,262.8h.6v.6h-.6zM546.1,215.1h.6v.6h-.6zM556.8,259.4h.6v.6h-.6zM540.5,241.6h.6v.6h-.6zM606.5,222.4h.6v.6h-.6zM593.2,235.1h.6v.6h-.6zM510.7,205.3h.6v.6h-.6zM609,231.1h.6v.6h-.6zM548,259.3h.6v.6h-.6zM564.1,233.3h.6v.6h-.6zM528.4,248.5h.6v.6h-.6zM525,231.4h.6v.6h-.6zM586.8,239.8h.6v.6h-.6zM510,214.7h.6v.6h-.6zM579,247.6h.6v.6h-.6zM506.1,264.3h.6v.6h-.6zM509.9,212.5h.6v.6h-.6zM504.5,229.9h.6v.6h-.6zM569.7,255.6h.6v.6h-.6zM513.6,245.7h.6v.6h-.6zM506.4,238.3h.6v.6h-.6zM524.5,224.3h.6v.6h-.6zM500,247h.6v.6h-.6zM508.5,249.8h.6v.6h-.6zM534.9,239h.6v.6h-.6zM572.1,232.5h.6v.6h-.6zM601,259.5h.6v.6h-.6zM528.2,222.9h.6v.6h-.6zM601.4,210.3h.6v.6h-.6zM545.2,227.9h.6v.6h-.6zM613.6,210h.6v.6h-.6zM574.1,249.3h.6v.6h-.6zM583.1,202.1h.6v.6h-.6zM609.6,221.5h.6v.6h-.6zM598.4,243.3h.6v.6h-.6zM545.3,254.4h.6v.6h-.6zM576.6,223.2h.6v.6h-.6zM583.5,233.6h.6v.6h-.6zM581,240.4h.6v.6h-.6zM591.4,212h.6v.6h-.6zM554.3,202.1h.6v.6h-.6zM590.8,250.2h.6v.6h-.6zM596.5,204.7h.6v.6h-.6zM559.3,231.9h.6v.6h-.6zM508.2,214.7h.6v.6h-.6zM613.3,255.3h.6v.6h-.6zM522.8,253.8h.6v.6h-.6zM573.6,226.1h.6v.6h-.6zM572.8,216.3h.6v.6h-.6zM527.2,202.6h.6v.6h-.6zM574.3,238.3h.6v.6h-.6zM584.9,233.5h.6v.6h-.6zM547,221.2h.6v.6h-.6zM583.9,225.3h.6v.6h-.6zM566.9,249.4h.6v.6h-.6zM548.2,244.9h.6v.6h-.6zM501.1,218.3h.6v.6h-.6zM596.9,211.2h.6v.6h-.6zM500.5,202.9h.6v.6h-.6zM587.7,208.6h.6v.6h-.6zM549.8,229.4h.6v.6h-.6zM592.3,231.8h.6v.6h-.6zM557.7,203.5h.6v.6h-.6zM591.3,250h.6v.6h-.6zM570.2,254.2h.6v.6h-.6zM569,246.8h.6v.6h-.6zM598.2,240.6h.6v.6h-.6zM496,257.3h.6v.6h-.6zM615.2,214.6h.6v.6h-.6zM501.6,223.2h.6v.6h-.6zM505.8,225.1h.6v.6h-.6zM504.5,215.8h.6v.6h-.6zM493.9,228.8h.6v.6h-.6zM530.4,247.5h.6v.6h-.6zM541.3,212.4h.6v.6h-.6zM610.8,257.9h.6v.6h-.6zM578.3,215.6h.6v.6h-.6zM543,230.2h.6v.6h-.6zM543.8,203.6h.6v.6h-.6zM549.6,250h.6v.6h-.6zM578.8,255.8h.6v.6h-.6zM577.5,249.7h.6v.6h-.6zM600.6,259.3h.6v.6h-.6zM591,228h.6v.6h-.6zM574.7,243.1h.6v.6h-.6zM602.1,246.6h.6v.6h-.6zM548,213.9h.6v.6h-.6zM533.8,217.6h.6v.6h-.6zM577.4,250.1h.6v.6h-.6zM517.1,235.3h.6v.6h-.6zM596.9,224.9h.6v.6h-.6zM505.1,239.9h.6v.6h-.6zM538.1,211h.6v.6h-.6zM528.9,202.4h.6v.6h-.6zM511.8,228.6h.6v.6h-.6zM506.4,202.4h.6v.6h-.6zM561.1,261.9h.6v.6h-.6zM596.1,222.4h.6v.6h-.6zM607.2,207h.6v.6h-.6zM512,202.4h.6v.6h-.6zM500.7,239.6h.6v.6h-.6zM586.6,231.9h.6v.6h-.6zM592.3,230.2h.6v.6h-.6zM606.5,240h.6v.6h-.6zM559.5,212.7h.6v.6h-.6zM546,229.5h.6v.6h-.6zM594.7,216.4h.6v.6h-.6zM529.7,253h.6v.6h-.6zM502.2,235.6h.6v.6h-.6zM520.5,243.6h.6v.6h-.6zM566.6,207.9h.6v.6h-.6zM583.3,227.5h.6v.6h-.6zM532.9,255.5h.6v.6h-.6zM589.3,221.3h.6v.6h-.6zM576.9,209.7h.6v.6h-.6zM557.3,207.2h.6v.6h-.6zM572.3,259.3h.6v.6h-.6zM571.8,204.5h.6v.6h-.6zM556.6,231.3h.6v.6h-.6zM548,211.4h.6v.6h-.6zM527.7,230.1h.6v.6h-.6zM502.2,244.1h.6v.6h-.6zM523.5,220.1h.6v.6h-.6zM504.7,220.9h.6v.6h-.6zM608,220.2h.6v.6h-.6zM505.3,223.6h.6v.6h-.6zM609.7,207.5h.6v.6h-.6zM535.6,215.1h.6v.6h-.6zM577.4,230.9h.6v.6h-.6zM505.6,255.9h.6v.6h-.6zM533.9,244.9h.6v.6h-.6zM549.2,256.5h.6v.6h-.6zM500.7,216.3h.6v.6h-.6zM528.6,218.5h.6v.6h-.6zM594.6,233.4h.6v.6h-.6zM536.1,233.7h.6v.6h-.6zM597.5,237.6h.6v.6h-.6zM549,243.1h.6v.6h-.6zM569.2,227.3h.6v.6h-.6zM545.9,210.2h.6v.6h-.6zM547.5,256.9h.6v.6h-.6zM531.1,224.8h.6v.6h-.6zM567.7,238.9h.6v.6h-.6zM515.1,229.9h.6v.6h-.6zM583.8,204.6h.6v.6h-.6zM506.9,249.2h.6v.6h-.6zM604.8,206.2h.6v.6h-.6zM503.5,241.2h.6v.6h-.6zM528.5,243h.6v.6h-.6zM497.7,230.5h.6v.6h-.6zM513.4,222.8h.6v.6h-.6zM578.8,233.9h.6v.6h-.6zM598.5,254.6h.6v.6h-.6zM569.7,255h.6v.6h-.6zM515.3,231.7h.6v.6h-.6zM532.8,241.1h.6v.6h-.6zM507.2,257.3h.6v.6h-.6zM539.1,251h.6v.6h-.6zM609.5,260.8h.6v.6h-.6zM541.5,255.6h.6v.6h-.6zM616.1,210.1h.6v.6h-.6zM585.4,247.5h.6v.6h-.6zM549.8,219.4h.6v.6h-.6zM514.8,227.7h.6v.6h-.6zM608.1,227.1h.6v.6h-.6zM524.9,240.7h.6v.6h-.6zM547.3,240.3h.6v.6h-.6zM549.4,219.9h.6v.6h-.6zM497.9,253.1h.6v.6h-.6zM574.6,217.2h.6v.6h-.6zM554.9,238.3h.6v.6h-.6zM555.4,258.3h.6v.6h-.6zM589.3,221.2h.6v.6h-.6zM535.2,240.2h.6v.6h-.6zM513.5,260.4h.6v.6h-.6zM499.1,233.2h.6v.6h-.6zM527.1,234.9h.6v.6h-.6zM499.1,216h.6v.6h-.6zM615.2,251.3h.6v.6h-.6zM520.7,230.5h.6v.6h-.6zM497.5,209.6h.6v.6h-.6zM517.1,263.5h.6v.6h-.6zM531.9,217.5h.6v.6h-.6zM501.5,208.9h.6v.6h-.6zM615.9,248.3h.6v.6h-.6zM606.7,254.2h.6v.6h-.6zM589.8,217.9h.6v.6h-.6zM514.3,218.9h.6v.6h-.6zM501.5,213h.6v.6h-.6zM582,232.7h.6v.6h-.6zM494.8,221h.6v.6h-.6zM598,255.2h.6v.6h-.6zM583.2,247.7h.6v.6h-.6zM605.6,236.8h.6v.6h-.6zM540.6,237.8h.6v.6h-.6zM528.2,204.3h.6v.6h-.6zM525.5,230.6h.6v.6h-.6zM508.3,207h.6v.6h-.6zM523.9,225h.6v.6h-.6zM611.2,232.4h.6v.6h-.6zM596.4,248.5h.6v.6h-.6zM566.4,222.1h.6v.6h-.6zM541.8,221.8h.6v.6h-.6zM571.5,255.4h.6v.6h-.6zM590.7,220.5h.6v.6h-.6zM511.9,202.6h.6v.6h-.6zM565.4,216.3h.6v.6h-.6zM494.2,220.9h.6v.6h-.6zM521.6,214.8h.6v.6h-.6zM575.2,238.5h.6v.6h-.6zM528.2,247.7h.6v.6h-.6zM518.9,259.6h.6v.6h-.6zM508.1,239h.6v.6h-.6zM580.2,247.8h.6v.6h-.6zM553.4,256.5h.6v.6h-.6zM570.9,245.2h.6v.6h-.6zM503.2,213.7h.6v.6h-.6zM550.8,236.1h.6v.6h-.6zM505.2,248.4h.6v.6h-.6zM536.1,231.7h.6v.6h-.6zM557.7,254.4h.6v.6h-.6zM530.7,237h.6v.6h-.6zM568,243h.6v.6h-.6zM531.9,219.4h.6v.6h-.6zM551.4,239.6h.6v.6h-.6zM572.8,210.4h.6v.6h-.6zM548.4,237h.6v.6h-.6zM517.5,208.4h.6v.6h-.6zM607.8,203.3h.6v.6h-.6zM554.8,220.4h.6v.6h-.6zM497.3,218.9h.6v.6h-.6zM513.4,227h.6v.6h-.6zM605.4,207h.6v.6h-.6zM536.8,245.4h.6v.6h-.6zM570.4,203.3h.6v.6h-.6zM521.6,219.6h.6v.6h-.6zM603.6,229.6h.6v.6h-.6zM525.2,232h.6v.6h-.6zM553.2,211.3h.6v.6h-.6zM575.5,247.1h.6v.6h-.6zM552.2,235.6h.6v.6h-.6zM588.3,261.8h.6v.6h-.6zM568.9,204.8h.6v.6h-.6zM555.6,243.4h.6v.6h-.6zM534.2,244.8h.6v.6h-.6zM538.7,240.5h.6v.6h-.6zM569,243.9h.6v.6h-.6zM607.3,246.2h.6v.6h-.6zM580.8,246h.6v.6h-.6zM521.9,240.4h.6v.6h-.6zM569.8,205.8h.6v.6h-.6zM586.3,216.2h.6v.6h-.6zM554,234.7h.6v.6h-.6zM582.3,249.8h.6v.6h-.6zM551.1,260.7h.6v.6h-.6zM548,237.4h.6v.6h-.6zM615.5,222.2h.6v.6h-.6zM581.3,261.8h.6v.6h-.6zM503.9,250.6h.6v.6h-.6zM573.7,235.7h.6v.6h-.6zM590.6,255.7h.6v.6h-.6zM511.5,232.4h.6v.6h-.6zM569.2,245.7h.6v.6h-.6zM611.4,252.2h.6v.6h-.6zM595.4,206h.6v.6h-.6zM545.9,259.1h.6v.6h-.6zM609.9,249.3h.6v.6h-.6zM534.5,250.1h.6v.6h-.6zM558.9,243.7h.6v.6h-.6zM571.9,256.1h.6v.6h-.6zM581.3,262.7h.6v.6h-.6zM554.2,232.8h.6v.6h-.6zM574.4,237.1h.6v.6h-.6zM499.5,262h.6v.6h-.6zM532.7,233.2h.6v.6h-.6zM498.7,213.9h.6v.6h-.6zM607.7,219.3h.6v.6h-.6zM530.2,252.7h.6v.6h-.6zM523.2,243.7h.6v.6h-.6zM563.4,258h.6v.6h-.6zM552.1,222.5h.6v.6h-.6zM525.4,224.7h.6v.6h-.6zM493.5,209.5h.6v.6h-.6zM511.8,221.7h.6v.6h-.6zM588,260.9h.6v.6h-.6zM537.1,217.6h.6v.6h-.6zM529.6,241.3h.6v.6h-.6zM552.4,209.3h.6v.6h-.6zM557.9,218.8h.6v.6h-.6zM511.2,251.1h.6v.6h-.6zM506.4,229.5h.6v.6h-.6zM587.7,235.9h.6v.6h-.6zM601,221.8h.6v.6h-.6zM609.9,204.7h.6v.6h-.6zM603.6,228.5h.6v.6h-.6zM493.9,218.2h.6v.6h-.6zM615.1,246.8h.6v.6h-.6zM584.2,252.7h.6v.6h-.6zM494.3,221.2h.6v.6h-.6zM550.8,258.8h.6v.6h-.6zM605.2,211.3h.6v.6h-.6zM614.9,236.6h.6v.6h-.6zM531,207.2h.6v.6h-.6zM546,234.5h.6v.6h-.6zM549.3,221.4h.6v.6h-.6zM610.1,231.7h.6v.6h-.6zM531.3,250.6h.6v.6h-.6zM523.5,228.4h.6v.6h-.6zM506.3,216.9h.6v.6h-.6zM616.1,240.8h.6v.6h-.6zM557.9,244.1h.6v.6h-.6zM576.2,234.6h.6v.6h-.6zM538.6,211.2h.6v.6h-.6zM497.1,209.6h.6v.6h-.6zM543.3,202.6h.6v.6h-.6zM576.5,223.1h.6v.6h-.6zM522.2,221.6h.6v.6h-.6zM554.1,215.1h.6v.6h-.6zM598.3,232.2h.6v.6h-.6zM501.9,207.3h.6v.6h-.6zM603,238.1h.6v.6h-.6zM529.3,246.6h.6v.6h-.6zM499.2,257.6h.6v.6h-.6zM608.7,243.5h.6v.6h-.6zM499.7,228.6h.6v.6h-.6zM596.4,239.1h.6v.6h-.6zM519.2,216.7h.6v.6h-.6zM501.3,234.6h.6v.6h-.6zM515.8,229.8h.6v.6h-.6zM603.7,258.3h.6v.6h-.6zM554,251h.6v.6h-.6zM510,261.2h.6v.6h-.6zM600,232.2h.6v.6h-.6zM602.5,220.6h.6v.6h-.6zM614.1,222.2h.6v.6h-.6zM607.2,254.3h.6v.6h-.6zM608.4,247.4h.6v.6h-.6zM502.5,219.5h.6v.6h-.6zM574.1,258.8h.6v.6h-.6zM577.3,204.4h.6v.6h-.6zM536.3,223.6h.6v.6h-.6zM514.6,216.1h.6v.6h-.6zM557,225.3h.6v.6h-.6zM526.3,227.8h.6v.6h-.6zM610,239.3h.6v.6h-.6zM586,260.3h.6v.6h-.6zM497.3,257h.6v.6h-.6zM505.2,214.3h.6v.6h-.6zM584.4,249.1h.6v.6h-.6zM569.1,231.8h.6v.6h-.6zM582.3,228.7h.6v.6h-.6zM517.4,215.7h.6v.6h-.6zM507.4,204.3h.6v.6h-.6zM610.6,261.4h.6v.6h-.6zM536.4,227.8h.6v.6h-.6zM527.8,250.8h.6v.6h-.6zM554.1,212.7h.6v.6h-.6zM602.3,260h.6v.6h-.6zM499.2,230.7h.6v.6h-.6zM520.7,241.9h.6v.6h-.6zM537.6,220.6h.6v.6h-.6zM530.7,240h.6v.6h-.6zM555.4,232.5h.6v.6h-.6zM577.2,231.6h.6v.6h-.6zM610,229.4h.6v.6h-.6zM590.9,260.2h.6v.6h-.6zM570,238.8h.6v.6h-.6zM590.6,246.5h.6v.6h-.6zM517.3,228h.6v.6h-.6zM512.8,203.3h.6v.6h-.6zM578,222.5h.6v.6h-.6zM524.8,203.6h.6v.6h-.6zM496.3,244h.6v.6h-.6zM537.5,229.3h.6v.6h-.6zM576.6,258.7h.6v.6h-.6zM579.7,215.7h.6v.6h-.6zM615.2,213.5h.6v.6h-.6zM564.9,242.3h.6v.6h-.6zM528.9,257.6h.6v.6h-.6zM568.5,246.4h.6v.6h-.6zM510.5,254h.6v.6h-.6zM528.8,240.6h.6v.6h-.6zM584.1,222.1h.6v.6h-.6zM526.1,222.7h.6v.6h-.6zM613.8,243.1h.6v.6h-.6zM551.5,237.1h.6v.6h-.6zM574.2,218.4h.6v.6h-.6zM502.8,208.8h.6v.6h-.6zM565.1,239.4h.6v.6h-.6zM613.8,240.8h.6v.6h-.6zM598.4,263.7h.6v.6h-.6zM554.6,228.4h.6v.6h-.6zM551.5,225.2h.6v.6h-.6zM587,238h.6v.6h-.6zM508.6,261.7h.6v.6h-.6zM558.3,248.8h.6v.6h-.6zM560.8,238.8h.6v.6h-.6zM564.4,209.2h.6v.6h-.6zM509.6,247.7h.6v.6h-.6zM536.5,210.1h.6v.6h-.6zM593.8,248.7h.6v.6h-.6zM587.5,226.2h.6v.6h-.6zM509.7,249.5h.6v.6h-.6zM520,243.8h.6v.6h-.6zM579.2,219.1h.6v.6h-.6zM493.8,238.9h.6v.6h-.6zM590.7,238.8h.6v.6h-.6zM614.6,216.3h.6v.6h-.6zM583.4,229.2h.6v.6h-.6zM564.9,220.9h.6v.6h-.6zM521.8,236.3h.6v.6h-.6zM568.2,258.8h.6v.6h-.6zM567.8,233.2h.6v.6h-.6zM573.6,241.2h.6v.6h-.6zM543.7,218.7h.6v.6h-.6zM577.4,226.2h.6v.6h-.6zM498.1,212.6h.6v.6h-.6zM537.7,244.9h.6v.6h-.6zM574.2,232.6h.6v.6h-.6zM593.9,222.4h.6v.6h-.6zM536.7,248.9h.6v.6h-.6zM577.1,228.6h.6v.6h-.6zM602.9,203.6h.6v.6h-.6zM559.5,255.6h.6v.6h-.6zM601.6,214.1h.6v.6h-.6zM592.8,235.3h.6v.6h-.6zM608.5,222.5h.6v.6h-.6zM575.2,242.1h.6v.6h-.6zM615.3,223.2h.6v.6h-.6zM541.4,209.8h.6v.6h-.6zM577.6,206.4h.6v.6h-.6zM598,211.1h.6v.6h-.6zM516.9,261.4h.6v.6h-.6zM554.8,249.2h.6v.6h-.6zM536,217.2h.6v.6h-.6zM538.8,263.4h.6v.6h-.6zM517.1,258.6h.6v.6h-.6zM602.1,244.5h.6v.6h-.6zM526.2,247.7h.6v.6h-.6zM604.8,239.1h.6v.6h-.6zM520.6,240.1h.6v.6h-.6zM611.2,238.9h.6v.6h-.6zM511.9,214.7h.6v.6h-.6zM571,205h.6v.6h-.6zM493.7,225.4h.6v.6h-.6zM525.2,232.8h.6v.6h-.6zM502.5,237h.6v.6h-.6zM576.6,221.8h.6v.6h-.6zM565,234.9h.6v.6h-.6zM590.6,238h.6v.6h-.6zM572,237.2h.6v.6h-.6zM594.7,208h.6v.6h-.6zM507.5,256.1h.6v.6h-.6zM596.1,202.5h.6v.6h-.6zM603.5,240.1h.6v.6h-.6zM598.8,245.8h.6v.6h-.6zM539.8,209.1h.6v.6h-.6zM587.6,246.4h.6v.6h-.6zM551.3,218.9h.6v.6h-.6zM538.3,260.5h.6v.6h-.6zM550.5,215.1h.6v.6h-.6zM614.8,263.1h.6v.6h-.6zM515.2,214.3h.6v.6h-.6zM583.3,226.2h.6v.6h-.6zM551.8,244.7h.6v.6h-.6zM527.1,239.1h.6v.6h-.6zM518.6,215.8h.6v.6h-.6zM560.6,228.7h.6v.6h-.6zM603.5,210.9h.6v.6h-.6zM606.2,218.4h.6v.6h-.6zM535.7,208.6h.6v.6h-.6zM532.4,263.3h.6v.6h-.6zM538,254.2h.6v.6h-.6zM613.6,245.5h.6v.6h-.6zM516.2,229h.6v.6h-.6zM514.1,217.6h.6v.6h-.6zM534.7,212.4h.6v.6h-.6zM577.1,234.7h.6v.6h-.6zM529.3,217.9h.6v.6h-.6zM511,209.1h.6v.6h-.6zM547.5,206.7h.6v.6h-.6zM557.8,218h.6v.6h-.6zM588.5,218.7h.6v.6h-.6zM598.8,261.1h.6v.6h-.6zM607.8,216.2h.6v.6h-.6zM607.8,231.5h.6v.6h-.6zM602.3,231h.6v.6h-.6zM560,218.2h.6v.6h-.6zM586.7,225h.6v.6h-.6zM602.2,246.2h.6v.6h-.6zM546.3,203.9h.6v.6h-.6zM526.5,228.1h.6v.6h-.6zM539,238.4h.6v.6h-.6zM494.1,231.2h.6v.6h-.6zM603.3,261.6h.6v.6h-.6zM578.2,244.9h.6v.6h-.6zM567.6,264.5h.6v.6h-.6zM590.7,230.8h.6v.6h-.6zM554.5,260.7h.6v.6h-.6zM561.4,239.4h.6v.6h-.6zM531.3,243.5h.6v.6h-.6zM553.6,261h.6v.6h-.6zM616.5,264.3h.6v.6h-.6zM610.4,204.7h.6v.6h-.6zM502.5,223.2h.6v.6h-.6zM595.2,236.9h.6v.6h-.6zM525.1,208.3h.6v.6h-.6zM524.3,210h.6v.6h-.6zM511.2,248.6h.6v.6h-.6zM517.3,212.4h.6v.6h-.6zM569.7,210.2h.6v.6h-.6zM596,242.6h.6v.6h-.6zM601.5,247.4h.6v.6h-.6zM583.4,218.7h.6v.6h-.6zM545.5,225.7h.6v.6h-.6zM541.7,259h.6v.6h-.6zM547.1,251.9h.6v.6h-.6zM571.1,207.2h.6v.6h-.6zM519.4,238.1h.6v.6h-.6zM590.6,216.6h.6v.6h-.6zM524.2,225.6h.6v.6h-.6zM550,228.3h.6v.6h-.6zM607.3,240h.6v.6h-.6zM527.7,223.5h.6v.6h-.6zM555.9,212h.6v.6h-.6zM541.7,206.1h.6v.6h-.6zM574.2,256.2h.6v.6h-.6zM604.1,239.3h.6v.6h-.6zM540.8,237h.6v.6h-.6zM561.8,213h.6v.6h-.6zM560,233.1h.6v.6h-.6zM517.8,229.7h.6v.6h-.6zM596.3,242.1h.6v.6h-.6zM534,216.9h.6v.6h-.6zM571,236.5h.6v.6h-.6zM530.1,231.4h.6v.6h-.6zM543.5,241.2h.6v.6h-.6zM601.5,225.3h.6v.6h-.6zM559.7,237.1h.6v.6h-.6zM575.6,217.2h.6v.6h-.6zM523.9,259.7h.6v.6h-.6zM511.4,244.6h.6v.6h-.6zM525.5,232.7h.6v.6h-.6zM549,216.9h.6v.6h-.6zM515.2,261.8h.6v.6h-.6zM498.2,210.9h.6v.6h-.6zM584.4,225.2h.6v.6h-.6zM517.5,250.5h.6v.6h-.6zM614.2,215h.6v.6h-.6zM580.5,226.8h.6v.6h-.6zM616.2,239.3h.6v.6h-.6zM603.6,243.4h.6v.6h-.6zM509.7,229.6h.6v.6h-.6zM580.3,211.6h.6v.6h-.6zM504.3,263.9h.6v.6h-.6zM607.1,242.7h.6v.6h-.6zM501.3,245.8h.6v.6h-.6zM615.1,250.9h.6v.6h-.6zM581.5,229.5h.6v.6h-.6zM571.3,259.9h.6v.6h-.6zM554.9,206.7h.6v.6h-.6zM511.4,261.5h.6v.6h-.6zM580.8,260.5h.6v.6h-.6zM511.7,208.6h.6v.6h-.6zM577.5,228.8h.6v.6h-.6zM550.4,216.5h.6v.6h-.6zM587.4,250.8h.6v.6h-.6zM582.8,228.9h.6v.6h-.6zM553.9,226.7h.6v.6h-.6zM550.7,222.4h.6v.6h-.6zM551.2,262.1h.6v.6h-.6zM592.1,210.5h.6v.6h-.6zM576,253.2h.6v.6h-.6zM535.9,257.6h.6v.6h-.6zM609.2,206.4h.6v.6h-.6zM570.4,225.8h.6v.6h-.6zM550.9,236.3h.6v.6h-.6zM599.2,241.4h.6v.6h-.6zM602.8,217.5h.6v.6h-.6zM591.5,226.5h.6v.6h-.6zM515.9,252.2h.6v.6h-.6zM564.5,216.1h.6v.6h-.6zM603.4,232.7h.6v.6h-.6zM576.4,263.6h.6v.6h-.6zM533.7,236h.6v.6h-.6zM560.7,219.8h.6v.6h-.6zM559.2,262.4h.6v.6h-.6zM579.3,218.6h.6v.6h-.6zM577.6,240.5h.6v.6h-.6zM538.9,244h.6v.6h-.6zM539.7,250.8h.6v.6h-.6zM541.2,253.5h.6v.6h-.6zM530.1,212.7h.6v.6h-.6zM534,209.9h.6v.6h-.6zM601.1,264.2h.6v.6h-.6zM544.7,217h.6v.6h-.6zM602,255.2h.6v.6h-.6zM523.5,221.1h.6v.6h-.6zM554.7,210.3h.6v.6h-.6zM519.4,226.8h.6v.6h-.6zM508.2,211h.6v.6h-.6zM567.9,220.8h.6v.6h-.6zM606.1,262.1h.6v.6h-.6zM575.9,219.2h.6v.6h-.6zM586.9,223.2h.6v.6h-.6zM600.5,228.5h.6v.6h-.6zM578.6,248.9h.6v.6h-.6zM579.9,249h.6v.6h-.6zM535.6,211.5h.6v.6h-.6zM538.8,261.9h.6v.6h-.6zM498,219.6h.6v.6h-.6zM531.6,229.5h.6v.6h-.6zM600.6,212.7h.6v.6h-.6zM506.3,203.1h.6v.6h-.6zM535.3,247.4h.6v.6h-.6zM549.2,242.4h.6v.6h-.6zM556.6,224.5h.6v.6h-.6zM543.6,204.6h.6v.6h-.6zM610.6,247.8h.6v.6h-.6zM505.5,214.7h.6v.6h-.6zM589.8,233.7h.6v.6h-.6zM585.6,249h.6v.6h-.6zM511.4,253.4h.6v.6h-.6zM518.2,210.6h.6v.6h-.6zM585.4,252.9h.6v.6h-.6zM530.7,226.1h.6v.6h-.6zM583.8,220.4h.6v.6h-.6zM548.2,264h.6v.6h-.6zM509.5,261h.6v.6h-.6zM602.6,264.3h.6v.6h-.6zM523.7,214.4h.6v.6h-.6zM547.3,212.7h.6v.6h-.6zM607.2,237.7h.6v.6h-.6zM597.1,232.7h.6v.6h-.6zM554.8,261.7h.6v.6h-.6zM508.9,216.1h.6v.6h-.6zM598.8,238.8h.6v.6h-.6zM589.7,264.2h.6v.6h-.6zM588.4,240.1h.6v.6h-.6zM585.9,235.3h.6v.6h-.6zM520.4,222.3h.6v.6h-.6zM607.2,234.9h.6v.6h-.6zM497.4,242.1h.6v.6h-.6zM615.7,241.1h.6v.6h-.6zM554,230.5h.6v.6h-.6zM571.1,240.4h.6v.6h-.6zM553.6,258.5h.6v.6h-.6zM602.6,250.9h.6v.6h-.6zM582.7,246.9h.6v.6h-.6zM517.8,232.7h.6v.6h-.6zM526.3,214.8h.6v.6h-.6zM610.4,216.4h.6v.6h-.6zM593.7,254.1h.6v.6h-.6zM543.3,203.5h.6v.6h-.6zM515.3,242.3h.6v.6h-.6zM580.7,224.2h.6v.6h-.6zM567.2,212.2h.6v.6h-.6zM574.4,250.9h.6v.6h-.6zM589.8,237.2h.6v.6h-.6zM564,202.1h.6v.6h-.6zM526.3,227.4h.6v.6h-.6zM502.4,206.6h.6v.6h-.6zM611.3,244.7h.6v.6h-.6zM562.7,245.1h.6v.6h-.6zM600.4,241.7h.6v.6h-.6zM546,226.5h.6v.6h-.6zM612.9,261.6h.6v.6h-.6zM512.2,253.1h.6v.6h-.6zM572.6,223.5h.6v.6h-.6zM578.9,219.2h.6v.6h-.6zM585.2,236.9h.6v.6h-.6zM565.5,205.5h.6v.6h-.6zM604.6,261.7h.6v.6h-.6zM587.1,220.3h.6v.6h-.6zM582.4,209.3h.6v.6h-.6zM560.7,223.6h.6v.6h-.6zM551.5,220.1h.6v.6h-.6zM502.2,229.2h.6v.6h-.6zM522.7,213h.6v.6h-.6zM534.3,209.8h.6v.6h-.6zM496.2,262.9h.6v.6h-.6zM500.3,257.8h.6v.6h-.6zM545.1,209.5h.6v.6h-.6zM546.3,233.7h.6v.6h-.6zM500.3,235.9h.6v.6h-.6zM494.4,220.7h.6v.6h-.6zM581,254.8h.6v.6h-.6zM515.4,227.4h.6v.6h-.6zM610,221.7h.6v.6h-.6zM508,217.4h.6v.6h-.6zM600,223.5h.6v.6h-.6zM575.4,260.6h.6v.6h-.6zM570,214.3h.6v.6h-.6zM552.6,222.3h.6v.6h-.6zM552.5,240.4h.6v.6h-.6zM613.6,245h.6v.6h-.6zM556.1,252.7h.6v.6h-.6zM555.9,214.1h.6v.6h-.6zM575.9,218.9h.6v.6h-.6zM519.6,226.3h.6v.6h-.6zM553.1,204h.6v.6h-.6zM537.9,262.1h.6v.6h-.6zM556.2,225h.6v.6h-.6zM549.7,245.6h.6v.6h-.6zM555.3,227.3h.6v.6h-.6zM564.9,219.2h.6v.6h-.6zM577.5,228.5h.6v.6h-.6zM580.3,223.8h.6v.6h-.6zM572,214.3h.6v.6h-.6zM553.2,232.8h.6v.6h-.6zM495.4,209.9h.6v.6h-.6zM550.1,249.8h.6v.6h-.6zM593.3,254.7h.6v.6h-.6zM592.7,262.4h.6v.6h-.6zM517.6,211.4h.6v.6h-.6zM510.6,251.5h.6v.6h-.6zM516.8,221.8h.6v.6h-.6zM510.5,258.8h.6v.6h-.6zM519.3,216.7h.6v.6h-.6zM566.6,245.9h.6v.6h-.6zM498.2,238.2h.6v.6h-.6zM558.7,236.6h.6v.6h-.6zM556.9,251.9h.6v.6h-.6zM594.7,255.8h.6v.6h-.6zM534.2,204.6h.6v.6h-.6zM551.4,203.7h.6v.6h-.6zM571.8,232h.6v.6h-.6zM585.3,254.1h.6v.6h-.6zM583.6,245.3h.6v.6h-.6zM534.4,247.4h.6v.6h-.6zM572.1,215.7h.6v.6h-.6zM600.4,231.5h.6v.6h-.6zM558.8,214.4h.6v.6h-.6zM595.7,231.6h.6v.6h-.6zM584.8,254.6h.6v.6h-.6zM557.3,238.6h.6v.6h-.6zM550.5,216.9h.6v.6h-.6zM591.8,259.5h.6v.6h-.6zM497.8,204.1h.6v.6h-.6zM551.3,207h.6v.6h-.6zM547.4,223.4h.6v.6h-.6zM523.1,250.5h.6v.6h-.6zM565,259.6h.6v.6h-.6zM517.4,225.8h.6v.6h-.6zM569.4,250.3h.6v.6h-.6zM546.1,213.6h.6v.6h-.6zM540.9,237.5h.6v.6h-.6zM612.5,242.7h.6v.6h-.6zM597.4,254.1h.6v.6h-.6zM546.2,233.6h.6v.6h-.6zM596,247.2h.6v.6h-.6zM542.7,213.8h.6v.6h-.6zM583.5,220.3h.6v.6h-.6zM526.1,217.7h.6v.6h-.6zM578,242.4h.6v.6h-.6zM608.7,238.8h.6v.6h-.6zM553,257.3h.6v.6h-.6zM510.5,238.8h.6v.6h-.6zM614.9,222.8h.6v.6h-.6zM512.2,209.1h.6v.6h-.6zM496.9,247.8h.6v.6h-.6zM544.2,253.3h.6v.6h-.6zM596.2,203.6h.6v.6h-.6zM531.2,218.5h.6v.6h-.6zM526,203.8h.6v.6h-.6zM524.9,223.2h.6v.6h-.6zM549.2,235.2h.6v.6h-.6zM614.6,208.8h.6v.6h-.6zM510,258.5h.6v.6h-.6zM528.9,235.7h.6v.6h-.6zM531,258h.6v.6h-.6zM608.4,237.6h.6v.6h-.6zM505.1,225.2h.6v.6h-.6zM580.1,237.4h.6v.6h-.6zM528,226.8h.6v.6h-.6zM501.1,227.2h.6v.6h-.6zM594.9,226.2h.6v.6h-.6zM550.8,212.5h.6v.6h-.6zM581.2,228.1h.6v.6h-.6zM540.9,250.3h.6v.6h-.6zM530,206.8h.6v.6h-.6zM572.5,248.1h.6v.6h-.6zM500,223.6h.6v.6h-.6zM602.5,233.8h.6v.6h-.6zM543.6,210.1h.6v.6h-.6zM529,238.7h.6v.6h-.6zM606,243.4h.6v.6h-.6zM612.6,227.5h.6v.6h-.6zM502,223.3h.6v.6h-.6zM538.6,205.6h.6v.6h-.6zM503.5,258.9h.6v.6h-.6zM603.6,210.3h.6v.6h-.6zM503.6,263.3h.6v.6h-.6zM514,220.9h.6v.6h-.6zM521.3,215h.6v.6h-.6zM497.3,230.9h.6v.6h-.6zM588.9,206.4h.6v.6h-.6zM554,210.3h.6v.6h-.6zM590.4,258.5h.6v.6h-.6zM601.1,235.4h.6v.6h-.6zM510.9,246.8h.6v.6h-.6zM502.1,250.4h.6v.6h-.6zM530.4,257.8h.6v.6h-.6zM528.5,248.3h.6v.6h-.6zM554.4,217h.6v.6h-.6zM553.9,228.9h.6v.6h-.6zM512.7,236.1h.6v.6h-.6zM559,245.7h.6v.6h-.6zM535.3,240.4h.6v.6h-.6zM517.9,234.6h.6v.6h-.6zM523,251.1h.6v.6h-.6zM517,220.2h.6v.6h-.6zM502.1,220.7h.6v.6h-.6zM560.1,216.3h.6v.6h-.6zM508.4,257.8h.6v.6h-.6zM531.7,215.5h.6v.6h-.6zM542.6,254.6h.6v.6h-.6zM585.3,258.4h.6v.6h-.6zM560.6,222.9h.6v.6h-.6zM555.2,205.7h.6v.6h-.6zM577.4,254.4h.6v.6h-.6zM606.1,253.9h.6v.6h-.6zM573.1,252.3h.6v.6h-.6zM529.3,237.1h.6v.6h-.6zM513.6,260.5h.6v.6h-.6zM556.5,213h.6v.6h-.6zM614.6,240.8h.6v.6h-.6zM519.6,254.9h.6v.6h-.6zM570.5,240.9h.6v.6h-.6zM601.5,221.7h.6v.6h-.6zM527.7,237.6h.6v.6h-.6zM518.5,245.7h.6v.6h-.6zM552.2,214.5h.6v.6h-.6zM508.8,212.1h.6v.6h-.6zM564.4,259.1h.6v.6h-.6zM591.5,255h.6v.6h-.6zM563.2,252.1h.6v.6h-.6zM534.1,225h.6v.6h-.6zM604.6,218.2h.6v.6h-.6zM570.2,237.5h.6v.6h-.6zM499.9,237.4h.6v.6h-.6zM591.5,257.6h.6v.6h-.6zM545,258.2h.6v.6h-.6zM498.2,258.7h.6v.6h-.6zM577.2,252.7h.6v.6h-.6zM548.6,238.7h.6v.6h-.6zM595,216h.6v.6h-.6zM516.1,249.1h.6v.6h-.6zM601.3,216.2h.6v.6h-.6zM560.8,233.7h.6v.6h-.6zM531.7,254.7h.6v.6h-.6zM528.3,250.7h.6v.6h-.6zM544.2,211.2h.6v.6h-.6zM611.8,211.2h.6v.6h-.6zM506,203.8h.6v.6h-.6zM536.6,203.7h.6v.6h-.6zM512.6,260.8h.6v.6h-.6zM524.8,246.7h.6v.6h-.6zM519.7,202.8h.6v.6h-.6zM494.4,209.6h.6v.6h-.6zM610.8,230.5h.6v.6h-.6zM524.2,204.9h.6v.6h-.6zM572.4,221.8h.6v.6h-.6zM515.7,229.3h.6v.6h-.6zM581,223.4h.6v.6h-.6zM562.5,213.8h.6v.6h-.6zM562.3,204.6h.6v.6h-.6zM607,260h.6v.6h-.6zM564.3,231.6h.6v.6h-.6zM542.4,248.8h.6v.6h-.6zM564.7,246.4h.6v.6h-.6zM548,227h.6v.6h-.6zM582.4,213.3h.6v.6h-.6zM535.6,217h.6v.6h-.6zM518.8,256h.6v.6h-.6zM531.9,248h.6v.6h-.6zM499.5,259.8h.6v.6h-.6zM551.2,248.5h.6v.6h-.6zM506.6,239.7h.6v.6h-.6zM593.4,220.1h.6v.6h-.6zM504.9,225.9h.6v.6h-.6zM588.1,249.6h.6v.6h-.6zM501.4,222.3h.6v.6h-.6zM606.1,220h.6v.6h-.6zM504.1,256.3h.6v.6h-.6zM594.3,229.9h.6v.6h-.6zM579.2,248.9h.6v.6h-.6zM596.4,213.8h.6v.6h-.6zM583.3,259.7h.6v.6h-.6zM590.5,234.6h.6v.6h-.6zM542,263.2h.6v.6h-.6zM615.7,252.3h.6v.6h-.6zM555.8,257.8h.6v.6h-.6zM601.1,233.5h.6v.6h-.6zM509.7,240.3h.6v.6h-.6zM510.1,222.9h.6v.6h-.6zM563.4,233.4h.6v.6h-.6zM572.7,253.3h.6v.6h-.6zM610.2,221.4h.6v.6h-.6zM610.9,222.2h.6v.6h-.6zM536.4,249.3h.6v.6h-.6zM613.5,233.7h.6v.6h-.6zM591.4,253.6h.6v.6h-.6zM532.2,240.6h.6v.6h-.6zM608.9,203.3h.6v.6h-.6zM508.8,256.5h.6v.6h-.6zM563.1,228.2h.6v.6h-.6zM591.1,229.7h.6v.6h-.6zM510.6,223.9h.6v.6h-.6zM587.1,242.1h.6v.6h-.6zM554.4,202.7h.6v.6h-.6zM616.1,206.9h.6v.6h-.6zM527.7,251.4h.6v.6h-.6zM608.8,245h.6v.6h-.6zM540.5,248.7h.6v.6h-.6zM575.7,238.1h.6v.6h-.6zM590.1,236.5h.6v.6h-.6zM559.7,218.1h.6v.6h-.6zM589.1,208.7h.6v.6h-.6zM505.2,241.3h.6v.6h-.6zM499.2,256.7h.6v.6h-.6zM517.2,231.2h.6v.6h-.6zM525.5,232.1h.6v.6h-.6zM569.3,214.3h.6v.6h-.6zM560.4,262.8h.6v.6h-.6zM511.9,215.7h.6v.6h-.6zM517.5,208.7h.6v.6h-.6zM495,261.9h.6v.6h-.6zM612,204.4h.6v.6h-.6zM596,238.2h.6v.6h-.6zM519,257.2h.6v.6h-.6zM507.8,242h.6v.6h-.6zM576.2,245.7h.6v.6h-.6zM522.6,211.3h.6v.6h-.6zM571.1,220.4h.6v.6h-.6zM568,248.2h.6v.6h-.6zM497.5,247.3h.6v.6h-.6zM613.9,227.2h.6v.6h-.6zM564.2,222.6h.6v.6h-.6zM601.7,215.9h.6v.6h-.6zM505.8,233.4h.6v.6h-.6zM548.1,237.6h.6v.6h-.6zM518.6,260h.6v.6h-.6zM559.2,226.3h.6v.6h-.6zM585.4,204.4h.6v.6h-.6zM606.8,254.2h.6v.6h-.6zM525.1,230.3h.6v.6h-.6zM498.3,251.5h.6v.6h-.6zM613.2,239.3h.6v.6h-.6zM613.8,231.5h.6v.6h-.6zM600.3,254.7h.6v.6h-.6zM607.4,230.7h.6v.6h-.6zM556.1,204.2h.6v.6h-.6zM610.5,207.5h.6v.6h-.6zM565,239.7h.6v.6h-.6zM514.9,223.9h.6v.6h-.6zM530.4,202.6h.6v.6h-.6zM542.7,225.8h.6v.6h-.6zM581.8,245.7h.6v.6h-.6zM610.1,256.4h.6v.6h-.6zM525,240.2h.6v.6h-.6zM578.7,251.3h.6v.6h-.6zM510.8,222.8h.6v.6h-.6zM569,221.7h.6v.6h-.6zM606.1,227.9h.6v.6h-.6zM580.5,206.3h.6v.6h-.6zM603.9,262.8h.6v.6h-.6zM612.2,223.3h.6v.6h-.6zM596,263.4h.6v.6h-.6zM506.7,206.6h.6v.6h-.6zM575.2,263.8h.6v.6h-.6zM497.3,254.4h.6v.6h-.6zM574.7,231.7h.6v.6h-.6zM511.1,233.7h.6v.6h-.6zM554.8,214.6h.6v.6h-.6zM604.2,248.2h.6v.6h-.6zM513.9,240.8h.6v.6h-.6zM567.1,260.6h.6v.6h-.6zM614.2,257.6h.6v.6h-.6zM500.2,228.3h.6v.6h-.6zM512.4,248.9h.6v.6h-.6zM503.6,253.8h.6v.6h-.6zM569.2,242.1h.6v.6h-.6zM609.7,256.3h.6v.6h-.6zM583.5,241.2h.6v.6h-.6zM560.7,234.4h.6v.6h-.6zM497.1,214.3h.6v.6h-.6zM578.2,227.9h.6v.6h-.6zM549,254.9h.6v.6h-.6zM541,247.5h.6v.6h-.6zM592.4,254h.6v.6h-.6zM522.4,240h.6v.6h-.6zM550.9,238.7h.6v.6h-.6zM504.1,213.9h.6v.6h-.6zM523.7,251h.6v.6h-.6zM589.8,225.9h.6v.6h-.6zM568,229.5h.6v.6h-.6zM559.6,218.7h.6v.6h-.6zM535.8,261.9h.6v.6h-.6zM602.3,209.6h.6v.6h-.6zM508.1,256.1h.6v.6h-.6zM548,242h.6v.6h-.6zM567.7,239.8h.6v.6h-.6zM604.9,211.6h.6v.6h-.6zM599.4,218.2h.6v.6h-.6zM502.8,220.6h.6v.6h-.6zM556.8,252.2h.6v.6h-.6zM564.9,262.6h.6v.6h-.6zM516.8,225.7h.6v.6h-.6zM564.1,238.9h.6v.6h-.6zM579.1,233.6h.6v.6h-.6zM505.9,250.9h.6v.6h-.6zM591.2,206.5h.6v.6h-.6zM593.5,202.4h.6v.6h-.6zM577.7,240.9h.6v.6h-.6zM530.1,207.6h.6v.6h-.6zM525.2,241.1h.6v.6h-.6zM559.2,252.8h.6v.6h-.6zM514.6,240.8h.6v.6h-.6zM530.8,204.7h.6v.6h-.6zM516.5,208.9h.6v.6h-.6zM513.1,204.4h.6v.6h-.6zM613.5,224.5h.6v.6h-.6zM586.7,228.4h.6v.6h-.6zM556.4,217.7h.6v.6h-.6zM609.7,215.2h.6v.6h-.6zM611.6,250.7h.6v.6h-.6zM599.7,208.1h.6v.6h-.6zM614.9,242.8h.6v.6h-.6zM564.8,237.5h.6v.6h-.6zM548.3,261.6h.6v.6h-.6zM614.2,261.5h.6v.6h-.6zM510.9,235.1h.6v.6h-.6zM579.6,213.5h.6v.6h-.6zM603.1,249h.6v.6h-.6zM508.3,220.5h.6v.6h-.6zM577.2,257.1h.6v.6h-.6zM616.3,219.3h.6v.6h-.6zM596.3,238.6h.6v.6h-.6zM538,217h.6v.6h-.6zM506.5,204.2h.6v.6h-.6zM546.4,209.6h.6v.6h-.6zM518.6,222.1h.6v.6h-.6zM510.2,214.6h.6v.6h-.6zM525,263h.6v.6h-.6zM545.6,240.6h.6v.6h-.6zM560,262h.6v.6h-.6zM595.1,259.9h.6v.6h-.6zM600.7,248.1h.6v.6h-.6zM601.3,222.8h.6v.6h-.6zM568.3,222.7h.6v.6h-.6zM607.3,218.7h.6v.6h-.6zM616.5,216.8h.6v.6h-.6zM535.3,248.4h.6v.6h-.6zM563.8,215.4h.6v.6h-.6zM509.1,256.7h.6v.6h-.6zM519,233.9h.6v.6h-.6zM596.5,232.4h.6v.6h-.6zM552.2,212.2h.6v.6h-.6zM608.6,239.6h.6v.6h-.6zM575.7,226.6h.6v.6h-.6zM581,225.7h.6v.6h-.6zM515.5,224.3h.6v.6h-.6zM587.2,256h.6v.6h-.6zM556.7,243.2h.6v.6h-.6zM608.4,242.6h.6v.6h-.6zM613.5,217.8h.6v.6h-.6zM600.8,248.9h.6v.6h-.6zM563.7,239h.6v.6h-.6zM514.2,203h.6v.6h-.6zM497.3,257.7h.6v.6h-.6zM542.5,239.6h.6v.6h-.6zM547.9,256.9h.6v.6h-.6zM584.2,225.4h.6v.6h-.6zM572.1,215.4h.6v.6h-.6zM609.5,212h.6v.6h-.6zM605.6,235.5h.6v.6h-.6zM511.6,263.5h.6v.6h-.6zM518,244.4h.6v.6h-.6zM525.5,210.4h.6v.6h-.6zM590.8,257.6h.6v.6h-.6zM603.2,244.1h.6v.6h-.6zM572.5,211.8h.6v.6h-.6zM616.3,222.5h.6v.6h-.6zM572,203.6h.6v.6h-.6zM532.4,234.7h.6v.6h-.6zM551.8,227.8h.6v.6h-.6zM540.6,203.2h.6v.6h-.6zM573,224.2h.6v.6h-.6zM507.4,225h.6v.6h-.6zM575.9,248.5h.6v.6h-.6zM544.6,209.3h.6v.6h-.6zM570.5,239.5h.6v.6h-.6zM553,262.6h.6v.6h-.6zM538.6,234.7h.6v.6h-.6zM497.2,210.3h.6v.6h-.6zM517.4,213.7h.6v.6h-.6zM515,208.8h.6v.6h-.6zM606.6,238.7h.6v.6h-.6zM553.7,237.1h.6v.6h-.6zM528.3,256.2h.6v.6h-.6zM584,228.7h.6v.6h-.6zM496.2,202h.6v.6h-.6zM497.8,247.4h.6v.6h-.6zM497.3,230.1h.6v.6h-.6zM557.3,225.2h.6v.6h-.6zM530.1,260.7h.6v.6h-.6zM610.9,249.2h.6v.6h-.6zM559.6,261.5h.6v.6h-.6zM579.8,216.4h.6v.6h-.6zM510.7,211.1h.6v.6h-.6zM506.3,226.4h.6v.6h-.6zM568.3,215h.6v.6h-.6zM503.5,223.1h.6v.6h-.6zM549.8,257h.6v.6h-.6zM603.1,253.4h.6v.6h-.6zM525.5,253.5h.6v.6h-.6zM528,238.6h.6v.6h-.6zM559.3,216.6h.6v.6h-.6zM560,218.5h.6v.6h-.6zM591.5,216.7h.6v.6h-.6zM589.6,213.8h.6v.6h-.6zM494.6,229.4h.6v.6h-.6zM601.9,241.7h.6v.6h-.6zM524.5,233.6h.6v.6h-.6zM534.2,243.4h.6v.6h-.6zM528.9,212.5h.6v.6h-.6zM616.4,204.4h.6v.6h-.6zM510.2,222h.6v.6h-.6zM534.4,236.6h.6v.6h-.6zM554.4,211.7h.6v.6h-.6zM595.6,246.3h.6v.6h-.6zM515.9,212.6h.6v.6h-.6zM507.3,234h.6v.6h-.6zM571.8,247h.6v.6h-.6zM522.8,256.1h.6v.6h-.6zM604.4,231.6h.6v.6h-.6zM508.2,212.9h.6v.6h-.6zM582,206.1h.6v.6h-.6zM570.3,246.8h.6v.6h-.6zM496,211.2h.6v.6h-.6zM523.1,229.4h.6v.6h-.6zM598.1,251.9h.6v.6h-.6z"/>
<path d="M496,227.4 L513,218.5 L560,200.5 L614.8,222.6 C616.5,223.3 616.6,224.5 616.4,225.5 L615.9,230.9 L549.6,263.7 L548.7,263.7 L495.8,235.6 C494,234.6 493.8,233 494,231.5 L494.4,229.5 C494.7,228.5 495.2,227.9 496,227.4 Z" fill="none" stroke="#333" stroke-width=".9"/>
<path class="t" style="stroke:#333;stroke-width:.8" d="M494.6,229.4 L548.8,255.6 L614.8,223.6 M548.8,255.6 L548.8,263.6"/>
<path class="w" d="M520.3,175.3 L550.1,188 L551.4,247.2 L513.9,226.5 L513.9,181.4 L516.1,179.9 L517.1,179.4 L520.6,178.5 Z" style="stroke-width:0.9"/><path class="w" d="M520.3,175.3 L562.8,158.1 L600.7,168.1 L550.1,188 Z" style="stroke-width:0.9"/><path class="w" d="M550.1,188 L600.7,168.1 L600.9,224.8 L551.4,247.2 Z" style="stroke-width:0.9"/><line class="t" x1="552.5" y1="187.1" x2="553.8" y2="246.3" /><line class="t" x1="599.4" y1="169.3" x2="599.6" y2="224.6" /><path class="l" d="M551.9,199.8 L600.2,180.2" style="stroke-width:0.9"/><path class="t" d="M551.9,201.3 L600.2,181.6" /><path class="t" d="M550.1,190.1 L600.7,170.1" /><path class="l" d="M550.6,188.9 L600.2,169.3" stroke-dasharray=".8,.7" style="stroke-width:1.2;stroke:#555"/><path class="l" d="M555.6,207.8 L594.8,191.6 L594.9,219.5 L556.2,236.7 Z" style="stroke-width:0.9"/><path class="l" d="M555.5,203.7 L595.7,187.2" style="stroke-width:2.6;stroke:#333"/><path class="l" d="M555.5,203.7 L595.7,187.2" style="stroke-width:1.0;stroke:#fff"/><path class="l" d="M555.5,203.7 L555.6,206.3" style="stroke-width:1.1"/><circle cx="596.1" cy="187.2" r="1.7" fill="#fff" stroke="#333" stroke-width=".8"/><path class="t" d="M568.9,215.8 L576.8,204.9" /><path class="t" d="M570.4,216.9 L578.3,206" /><path class="t" d="M575.9,219.8 L584.8,207.2" /><path class="t" d="M577.5,220.9 L586.3,208.3" /><circle class="w" cx="532.7" cy="192.4" r="1.6" style="stroke-width:.7"/>
<path class="w" d="M650.3,38.5 L687.7,34 L711,43.7 L669.9,48.9 Z" style="stroke-width:.9"/><path class="w" d="M650.3,38.5 L669.9,48.9 L669.9,107.2 L650.3,93.2 Z" style="stroke-width:.9"/><path class="w" d="M669.9,48.9 L711,43.7 L710,100.7 L669.9,107.2 Z" style="stroke-width:.9"/><path class="l" d="M672.5,50.5 L709.4,45.8 L708.4,99.7 L672.5,105.6 Z" style="stroke-width:.8"/><path d="M672.2,51.3 L689,50.8 L689,86.2 L672.2,86.7 Z" fill="#e8e8e8"/><line class="t" x1="689" y1="50.8" x2="689" y2="86.2" /><path class="t" d="M672.2,86.7 L689,86.2 L708.4,98.7" /><path class="w" style="stroke-width:.7" d="M650.5,93.2 v2.2 a1,0.6 0 0 0 2,0 v-2.2"/><path class="w" style="stroke-width:.7" d="M668.9,107.2 v2.2 a1,0.6 0 0 0 2,0 v-2.2"/><path class="w" style="stroke-width:.7" d="M707.5,100.7 v2.2 a1,0.6 0 0 0 2,0 v-2.2"/>
<path d="M726.3,74 L726.3,39.5 C726.3,36.4 731.3,36.4 731.3,39.5 L731.3,74" fill="#fff" stroke="#333" stroke-width=".9"/>
<rect x="727.6" y="54" width="2.4" height="22" fill="#808080"/>
<line x1="726.4" x2="728.8" y1="42" y2="42" stroke="#555" stroke-width=".5"/><line x1="726.4" x2="728" y1="44.2" y2="44.2" stroke="#555" stroke-width=".5"/><line x1="726.4" x2="728.8" y1="46.4" y2="46.4" stroke="#555" stroke-width=".5"/><line x1="726.4" x2="728" y1="48.6" y2="48.6" stroke="#555" stroke-width=".5"/><line x1="726.4" x2="728.8" y1="50.8" y2="50.8" stroke="#555" stroke-width=".5"/><line x1="726.4" x2="728" y1="53" y2="53" stroke="#555" stroke-width=".5"/><line x1="726.4" x2="728.8" y1="55.2" y2="55.2" stroke="#555" stroke-width=".5"/><line x1="726.4" x2="728" y1="57.4" y2="57.4" stroke="#555" stroke-width=".5"/><line x1="726.4" x2="728.8" y1="59.6" y2="59.6" stroke="#555" stroke-width=".5"/><line x1="726.4" x2="728" y1="61.8" y2="61.8" stroke="#555" stroke-width=".5"/><line x1="726.4" x2="728.8" y1="64" y2="64" stroke="#555" stroke-width=".5"/><line x1="726.4" x2="728" y1="66.2" y2="66.2" stroke="#555" stroke-width=".5"/><line x1="726.4" x2="728.8" y1="68.4" y2="68.4" stroke="#555" stroke-width=".5"/><line x1="726.4" x2="728" y1="70.6" y2="70.6" stroke="#555" stroke-width=".5"/><line x1="726.4" x2="728.8" y1="72.8" y2="72.8" stroke="#555" stroke-width=".5"/>
<circle cx="728.8" cy="78.6" r="6.6" fill="#fff" stroke="#333" stroke-width="1"/>
<circle cx="728.8" cy="78.6" r="5.3" fill="#808080"/>
<path d="M745,70.6 L768.2,70.6 L756.6,48 Z" fill="#fff" stroke="#222" stroke-width=".9" stroke-linejoin="miter"/>
<path d="M756.6,55.5 L756.6,65" stroke="#222" stroke-width="1"/><circle cx="756.6" cy="67.4" r=".8" fill="#222"/>
<text class="n" x="723.4" y="101" font-size="14.2" text-anchor="start"  textLength="30.6" lengthAdjust="spacingAndGlyphs">90 °C</text>
<path class="w" d="M647.5,156.7 L701,150.5 L733.3,163.5 L675,170.4 Z" style="stroke-width:.9"/><path class="w" d="M647.5,156.7 L675,170.4 L675,253.4 L647.5,234.2 Z" style="stroke-width:.9"/><path class="w" d="M675,170.4 L733.3,163.5 L733.3,243.8 L675,253.4 Z" style="stroke-width:.9"/><path class="l" d="M677.6,172 L731.7,165.6 L731.7,242.8 L677.6,251.8 Z" style="stroke-width:.8"/><path d="M678,173 L701,172.5 L701,198.7 L678,199.2 Z" fill="#e8e8e8"/><line class="t" x1="701" y1="172.5" x2="701" y2="198.7" /><path class="t" d="M678,199.2 L701,198.7" /><path class="w" style="stroke-width:.7" d="M647.7,234.2 v2.2 a1,0.6 0 0 0 2,0 v-2.2"/><path class="w" style="stroke-width:.7" d="M674,253.4 v2.2 a1,0.6 0 0 0 2,0 v-2.2"/><path class="w" style="stroke-width:.7" d="M730.8,243.8 v2.2 a1,0.6 0 0 0 2,0 v-2.2"/>
<path class="t" d="M678,238.5 L716,232.8 L731,240.5" />
<path d="M678,223 L700,219.8 L700,226 L678,229 Z" fill="#ececec"/>
<path class="l" d="M677.7,219.8 L731.2,212.2" style="stroke-width:.8"/>
<path class="t" d="M677.7,222.3 L731.2,214.7" />
<path class="t" d="M701,193 L731,211" />
<path class="t" d="M677.7,219.8 L699,216.5" />
<path d="M688.5,186 L731,170.5 L734.6,176 L691.5,192.6 C688,193.5 687,188 688.5,186 Z" fill="#fff" stroke="#333" stroke-width=".8"/>
<path d="M721,173.5 L729,170 L737,171.5 L735.5,176 L726,178.5 Z" fill="#fff" stroke="#333" stroke-width=".8"/>
<path d="M683,198 C685,200 690,199.5 692,196" fill="none" stroke="#555" stroke-width=".7"/>
<path d="M692.5,235.5 L703,224.5 L715,222.5 L716,231 L705,235.5 Z" fill="#7a7a7a" stroke="#333" stroke-width=".7"/>
<path d="M708,224 L714,211.5 L716,212.5 L711,224" fill="#fff" stroke="#333" stroke-width=".7"/>
<rect x="689.6" y="224.3" width=".7" height=".7" fill="#444"/><rect x="692.2" y="228.1" width=".7" height=".7" fill="#444"/><rect x="687.9" y="243.6" width=".7" height=".7" fill="#444"/><rect x="687.9" y="232.3" width=".7" height=".7" fill="#444"/><rect x="694.4" y="243.6" width=".7" height=".7" fill="#444"/><rect x="684" y="236.4" width=".7" height=".7" fill="#444"/><rect x="694.3" y="226.6" width=".7" height=".7" fill="#444"/><rect x="684.7" y="231" width=".7" height=".7" fill="#444"/><rect x="688.8" y="238.7" width=".7" height=".7" fill="#444"/><rect x="699.5" y="237.9" width=".7" height=".7" fill="#444"/><rect x="690.3" y="244.9" width=".7" height=".7" fill="#444"/><rect x="698.9" y="233.2" width=".7" height=".7" fill="#444"/><rect x="691" y="234.9" width=".7" height=".7" fill="#444"/><rect x="684.8" y="237.5" width=".7" height=".7" fill="#444"/><rect x="695.1" y="234" width=".7" height=".7" fill="#444"/><rect x="692.9" y="243.1" width=".7" height=".7" fill="#444"/><rect x="693.6" y="238.5" width=".7" height=".7" fill="#444"/><rect x="698" y="239.4" width=".7" height=".7" fill="#444"/><rect x="690.8" y="244.1" width=".7" height=".7" fill="#444"/><rect x="699.1" y="225.7" width=".7" height=".7" fill="#444"/><rect x="700" y="227.5" width=".7" height=".7" fill="#444"/><rect x="698" y="237.5" width=".7" height=".7" fill="#444"/><rect x="696.3" y="231.3" width=".7" height=".7" fill="#444"/><rect x="687.9" y="227.7" width=".7" height=".7" fill="#444"/><rect x="685.1" y="226.4" width=".7" height=".7" fill="#444"/><rect x="685.9" y="241.2" width=".7" height=".7" fill="#444"/><rect x="692.1" y="242" width=".7" height=".7" fill="#444"/><rect x="699.8" y="233.2" width=".7" height=".7" fill="#444"/>
<path d="M701,252 C704,248 716,247 724,249 C730,249 736,249.5 735.5,252.5 C734,255 728,255.5 724,254.5 C719,258 706,258.5 701,255 Z" fill="#fff" stroke="#333" stroke-width=".8"/>
<ellipse cx="729" cy="252" rx="5.5" ry="2" fill="#bbb" stroke="#333" stroke-width=".6"/>
<path class="w" style="stroke-width:.8" d="M71.5,197.5 C66,199 61.5,203 60,209 C58.5,216 58,228 57.9,239 L58.4,241 C58.6,255 59.5,270 61,282 C61.5,285 64,286.8 67,286.5 L81.5,284.8 C83,283.2 80.8,281.5 77.5,281.2 L77,262 L76.4,241.2 L76.5,228 C79,228 82,227.4 85,226.6 L99.5,224.5 C101.5,222.8 100.8,220 99,219 L86,220 C82,212 78,205 75,199.5 Z"/><path class="t" d="M57.9,239 L76.4,241.2 M72.4,217.6 C74,221.5 76,225 79.2,227.7 M67,244 L68,282 M62,283 L61,252"/><path class="w" style="stroke-width:.8" d="M72.4,197.5 C69.6,194.5 68.8,189.5 70,186.2 C71.5,183 76,182.2 79.5,182.8 C84,183.5 87,186 86.6,189.2 L88,192.2 L86.6,193.2 L86.7,195.6 C85.9,197.6 84.6,199.3 83,199.7 C80.6,200.1 78.6,199.8 77,199.2 Z"/><path class="t" d="M70.6,189.4 C73,187.4 76.5,186.8 80,188 C82,188.8 84,188.6 86,188 M75.3,190.5 C74,191.5 74.2,193.5 76,194 M81.5,190.5 L86.4,190.3"/><path class="w" d="M93.5,198.6 L106.1,208.5 L99.5,219.9 L87,210 Z" style="stroke-width:.8"/><line class="t" x1="100.2" y1="203.5" x2="93.4" y2="215" /><path class="t" d="M95,204 l2.5,1.5 l-1,2.2 l-2.5,-1.5 z M101,208.5 l2.5,1.5 l-1,2.2 l-2.5,-1.5 z M92.5,209.5 l2.5,1.5 l-1,2.2 l-2.5,-1.5 z M98,213 l2.5,1.5 l-1,2.2 l-2.5,-1.5 z"/><path class="w" style="stroke-width:.8" d="M97,218 C99,216 102,216.5 103.5,218.5 C104,221 102,224 99.4,224.4 Z"/><path class="l" style="stroke-width:.8" d="M99.4,202 L139,198.8 M101.6,204.2 L134.2,209.8"/><path d="M77.5,272.4 L106,262.5 L131.4,270.4 L131.4,275.4 L102.7,286.6 L77.5,277.6 Z" fill="#e2e2e2" stroke="#333" stroke-width=".8"/><path d="M77.5,272.4 L106,262.5 L131.4,270.4 L102.7,281.6 Z" fill="#ececec"/><path class="t" d="M77.5,272.4 L102.7,281.6 L131.4,270.4 M102.7,281.6 L102.7,286.6"/><path class="t" style="stroke:#666" d="M78.5,274.2 l1.6,-1.2"/><path class="t" style="stroke:#666" d="M79.7,274.6 l1.6,-1.2"/><path class="t" style="stroke:#666" d="M80.9,275.1 l1.6,-1.2"/><path class="t" style="stroke:#666" d="M82.1,275.5 l1.6,-1.2"/><path class="t" style="stroke:#666" d="M83.3,276 l1.6,-1.2"/><path class="t" style="stroke:#666" d="M84.5,276.4 l1.6,-1.2"/><path class="t" style="stroke:#666" d="M85.7,276.8 l1.6,-1.2"/><path class="t" style="stroke:#666" d="M86.9,277.3 l1.6,-1.2"/><path class="t" style="stroke:#666" d="M88.1,277.7 l1.6,-1.2"/><path class="t" style="stroke:#666" d="M89.3,278.2 l1.6,-1.2"/><path class="t" style="stroke:#666" d="M90.5,278.6 l1.6,-1.2"/><path class="t" style="stroke:#666" d="M91.7,279 l1.6,-1.2"/><path class="t" style="stroke:#666" d="M92.9,279.5 l1.6,-1.2"/><path class="t" style="stroke:#666" d="M94.1,279.9 l1.6,-1.2"/><path class="t" style="stroke:#666" d="M95.3,280.4 l1.6,-1.2"/><path class="t" style="stroke:#666" d="M96.5,280.8 l1.6,-1.2"/><path class="t" style="stroke:#666" d="M97.7,281.2 l1.6,-1.2"/><path class="t" style="stroke:#666" d="M98.9,281.7 l1.6,-1.2"/><path class="t" style="stroke:#666" d="M100.1,282.1 l1.6,-1.2"/><path class="t" style="stroke:#666" d="M101.3,282.6 l1.6,-1.2"/><path class="t" style="stroke:#666" d="M103.5,283.2 l1.6,1.2"/><path class="t" style="stroke:#666" d="M104.8,282.7 l1.6,1.2"/><path class="t" style="stroke:#666" d="M106.1,282.2 l1.6,1.2"/><path class="t" style="stroke:#666" d="M107.4,281.7 l1.6,1.2"/><path class="t" style="stroke:#666" d="M108.7,281.2 l1.6,1.2"/><path class="t" style="stroke:#666" d="M110,280.6 l1.6,1.2"/><path class="t" style="stroke:#666" d="M111.3,280.1 l1.6,1.2"/><path class="t" style="stroke:#666" d="M112.6,279.6 l1.6,1.2"/><path class="t" style="stroke:#666" d="M113.9,279.1 l1.6,1.2"/><path class="t" style="stroke:#666" d="M115.2,278.6 l1.6,1.2"/><path class="t" style="stroke:#666" d="M116.5,278.1 l1.6,1.2"/><path class="t" style="stroke:#666" d="M117.8,277.6 l1.6,1.2"/><path class="t" style="stroke:#666" d="M119.1,277.1 l1.6,1.2"/><path class="t" style="stroke:#666" d="M120.4,276.6 l1.6,1.2"/><path class="t" style="stroke:#666" d="M121.7,276.1 l1.6,1.2"/><path class="t" style="stroke:#666" d="M123,275.6 l1.6,1.2"/><path class="t" style="stroke:#666" d="M124.3,275 l1.6,1.2"/><path class="t" style="stroke:#666" d="M125.6,274.5 l1.6,1.2"/><path class="t" style="stroke:#666" d="M126.9,274 l1.6,1.2"/><path class="t" style="stroke:#666" d="M128.2,273.5 l1.6,1.2"/><path class="t" style="stroke:#666" d="M129.5,273 l1.6,1.2"/><path class="t" style="stroke:#888" d="M80,272.6 l2,-0.7"/><path class="t" style="stroke:#888" d="M82.3,273.4 l2,-0.7"/><path class="t" style="stroke:#888" d="M84.6,274.2 l2,-0.7"/><path class="t" style="stroke:#888" d="M86.9,275 l2,-0.7"/><path class="t" style="stroke:#888" d="M89.2,275.8 l2,-0.7"/><path class="t" style="stroke:#888" d="M91.5,276.6 l2,-0.7"/><path class="w" d="M87,249.1 L103.9,253.6 L103.3,279.4 L85.9,269.3 L85.9,252.4 L85.3,250.9 L86.3,250.4 L87.1,250.4 Z" style="stroke-width:0.8"/><path class="w" d="M87,249.1 L108.4,240.7 L125.2,245.7 L103.9,253.6 Z" style="stroke-width:0.8"/><path class="w" d="M103.9,253.6 L125.2,245.7 L124.6,271.5 L103.3,279.4 Z" style="stroke-width:0.8"/><line class="t" x1="106.3" y1="252.7" x2="105.7" y2="278.5" /><line class="t" x1="123.9" y1="246.9" x2="123.3" y2="271.3" /><path class="l" d="M104.4,258.8 L124.9,251.2" style="stroke-width:0.8"/><path class="t" d="M104.4,259.4 L124.8,251.8" /><path class="t" d="M103.9,254.5 L125.2,246.6" /><path class="l" d="M104.1,254 L125,246.2" stroke-dasharray=".8,.7" style="stroke-width:1.2;stroke:#555"/><path class="l" d="M105.8,262.4 L122.4,256.2 L122.1,268.8 L105.5,275 Z" style="stroke-width:0.8"/><path class="l" d="M105.8,260.6 L122.9,254.2" style="stroke-width:2.6;stroke:#333"/><path class="l" d="M105.8,260.6 L122.9,254.2" style="stroke-width:1.0;stroke:#fff"/><path class="l" d="M105.8,260.6 L105.8,261.7" style="stroke-width:1.1"/><circle cx="123.3" cy="254.2" r="1.7" fill="#fff" stroke="#333" stroke-width=".8"/><path class="t" d="M111.2,266.2 L114.7,261.6" /><path class="t" d="M111.8,266.8 L115.3,262.2" /><path class="t" d="M114.1,268.2 L118,262.9" /><path class="t" d="M114.7,268.8 L118.7,263.5" /><circle class="w" cx="94.3" cy="262.9" r="1.1" style="stroke-width:.7"/><circle cx="176.5" cy="222.2" r="44" fill="#fff" stroke="#333" stroke-width=".9"/><path d="M131,199.5 L139.5,198.5 L141,203 L131,209.8 Z" fill="#fff"/><path class="l" style="stroke-width:.8" d="M131,199.8 L139.2,198.7 M131,209.5 C133,207 134.5,206 135.5,205"/><path class="w" d="M158.4,193.7 L216.3,212.7 L202.3,252 L145.4,233 Z" style="stroke-width:1"/><path d="M187.5,203.4 L174.4,243.1" stroke="#222" stroke-width="1.1"/><path d="M216.3,212.7 L202.3,252" stroke="#222" stroke-width="1.6"/><path d="M165,202.5 L171.4,212.8 L159.2,213 Z" fill="none" stroke="#222" stroke-width="1.3" stroke-linejoin="miter"/><path d="M165.6,206.5 L165.4,210.5" stroke="#222" stroke-width=".7"/><g clip-path="url(#pgL)"><path d="M154,217.1 l50,16.6" stroke="#777" stroke-width=".55" stroke-dasharray="5.7,1" fill="none"/><path d="M140,215.8 l50,16.6" stroke="#777" stroke-width=".55" stroke-dasharray="8.6,1" fill="none"/><path d="M140,219.1 l50,16.6" stroke="#777" stroke-width=".55" stroke-dasharray="5.5,1" fill="none"/><path d="M140,222.4 l50,16.6" stroke="#777" stroke-width=".55" stroke-dasharray="7.1,1" fill="none"/><path d="M140,225.7 l50,16.6" stroke="#777" stroke-width=".55" stroke-dasharray="8.4,1" fill="none"/><path d="M140,229 l50,16.6" stroke="#777" stroke-width=".55" stroke-dasharray="5.5,1" fill="none"/><path d="M140,232.3 l50,16.6" stroke="#777" stroke-width=".55" stroke-dasharray="6.1,1" fill="none"/><path d="M140,235.6 l50,16.6" stroke="#777" stroke-width=".55" stroke-dasharray="7.6,1" fill="none"/><path d="M140,238.9 l50,16.6" stroke="#777" stroke-width=".55" stroke-dasharray="5.4,1" fill="none"/></g><g clip-path="url(#pgR)"><path d="M175,198 l50,16.6" stroke="#777" stroke-width=".55" stroke-dasharray="8.5,1" fill="none"/><path d="M175,201.3 l50,16.6" stroke="#777" stroke-width=".55" stroke-dasharray="8,1" fill="none"/><path d="M175,204.6 l50,16.6" stroke="#777" stroke-width=".55" stroke-dasharray="7.2,1" fill="none"/><path d="M175,207.9 l50,16.6" stroke="#777" stroke-width=".55" stroke-dasharray="8.1,1" fill="none"/><path d="M175,211.2 l50,16.6" stroke="#777" stroke-width=".55" stroke-dasharray="5.6,1" fill="none"/><path d="M175,214.5 l50,16.6" stroke="#777" stroke-width=".55" stroke-dasharray="8.4,1" fill="none"/><path d="M175,217.8 l50,16.6" stroke="#777" stroke-width=".55" stroke-dasharray="7.2,1" fill="none"/><path d="M175,221.1 l50,16.6" stroke="#777" stroke-width=".55" stroke-dasharray="6.5,1" fill="none"/><path d="M175,224.4 l50,16.6" stroke="#777" stroke-width=".55" stroke-dasharray="8.3,1" fill="none"/><path d="M175,227.7 l50,16.6" stroke="#777" stroke-width=".55" stroke-dasharray="6.8,1" fill="none"/><path d="M175,231 l50,16.6" stroke="#777" stroke-width=".55" stroke-dasharray="5.2,1" fill="none"/><path d="M175,234.3 l50,16.6" stroke="#777" stroke-width=".55" stroke-dasharray="7.8,1" fill="none"/><path d="M175,237.6 l50,16.6" stroke="#777" stroke-width=".55" stroke-dasharray="5.1,1" fill="none"/></g><path class="w" style="stroke-width:.8" d="M131.5,210 C136,206 141,205.5 145,206 L148,208.5 C152,209 156,213 155,215 C153,216.5 150,215 148,215 C145,219 140,222 134.5,224.8"/><path class="t" d="M148,208.5 C149,210 148,212 146.5,213"/><path d="M166.3,275 L166.3,289.4 L188.5,289.4 L188.5,275 M168,273.5 L168,288 L186.8,288 L186.8,273.5" fill="none" stroke="#333" stroke-width=".8"/><path d="M169.6,271.6 L177.2,271.6 L177.4,287 C174.5,286 172,286 169.6,286.8 Z M177.4,271.6 L185.2,271.6 L185.2,286.8 C182.5,286 180,286 177.4,287 Z" fill="#fff" stroke="#333" stroke-width=".8"/>
<path d="M281,191.3 L287.2,192.4 L283.8,209.3 L288.8,206.6 L285.6,229.6 L287,229.6 L280.4,241.4 L278.3,229.8 L280.6,230 L282.2,216.4 L274.1,220.2 Z" fill="#1a1a1a"/><path class="w" d="M326.2,206 L346.1,204.3 L346.1,236.5 L326.2,236 Z" style="stroke-width:.8"/><path class="w" d="M346.1,204.3 L354,202.3 L375.6,204.3 L375.6,236 L366,238.4 L346.1,236.5 Z" style="stroke-width:.9"/><path class="l" style="stroke-width:.8" d="M354,202.3 L354,231 L366,233.5 L366,238.4 M366,204.8 L366,233.5 M354,217 L366,219"/><path class="l" style="stroke-width:.8" d="M348,205 L351,209.5 L349.5,212 L354,214 M355,199.5 L354,206 L357.5,208 L356,213 M359,200 L358.5,205 L361.5,208.5 M351,217 L355,212 L359,219.5 M346.5,212 L351.5,213 M356,214 L353.5,220"/><path d="M346.6,229.5 C345,240 338,250 337,260 C335.8,270 335.5,277 339,280 C343,282 352,279 356,277.2" fill="none" stroke="#333" stroke-width="2.2" stroke-linecap="round"/><path d="M346.6,229.5 C345,240 338,250 337,260 C335.8,270 335.5,277 339,280 C343,282 352,279 356,277.2" fill="none" stroke="#fff" stroke-width="1" stroke-linecap="round"/><circle cx="357.6" cy="276.4" r="1.6" fill="#333"/><path class="w" style="stroke-width:.8" d="M307.5,195.5 C304.5,198 304,206 305,214 C306.5,222 309,228 311.2,230.4 L312,250 C313,262 314,276 315.3,286.4 C315.6,288.8 317,289.6 320,289.5 L334.5,288.6 C335.8,287 334,285.6 330.5,285 L328.5,286 C328,270 327.5,255 326.5,240 L326.2,230.4 L326.2,222 C332,221 338,219.5 345.4,217.8 C347,216 346,213.5 344,213 L330,212.5 C328,206 326.5,200 325,196.2 C319,194 312,194 307.5,195.5 Z"/><path class="t" d="M311.2,230.4 L326.2,230.8 M319.5,232 L320.5,284 M310,205 C312,212 316,218 322,221 M326,287.5 L329.5,282"/><path class="w" style="stroke-width:.8" d="M312.2,185 C311.5,179 316,175.6 321.5,175.6 C327.5,175.6 331.2,179 330.8,184.5 C330.5,188.5 328.5,191.5 325.8,193.8 C322,195.5 317,195 314.5,192.5 C313,190.5 312.5,188 312.2,185 Z"/><path class="t" d="M315,184 C318,181 325,180.5 330,183 M325.5,190.5 C327.5,191 329,190 330,189"/><line class="x" x1="294" y1="180.3" x2="368.8" y2="241.3" /><line class="x" x1="368.8" y1="180.3" x2="294" y2="241.3" /><path class="w" d="M423.6,206.3 L441.1,204.3 L441.1,236.5 L423.6,238.6 Z" style="stroke-width:.9"/><path class="w" d="M441.1,204.3 L447,202.4 L471.6,204.6 L471.6,238.6 L461,241.2 L441.1,237 Z" style="stroke-width:.9"/><path class="l" style="stroke-width:.8" d="M447,202.4 L447,232.5 L461,235.5 L461,241.2 M461,204.5 L461,235.5 M447,225 L461,227.5 M453,226 L453,234"/><path d="M452,208 C450,213 447,222 442,230 C438,233 434,234 430,234" fill="none" stroke="#333" stroke-width="2" stroke-linecap="round"/><path d="M452,208 C450,213 447,222 442,230 C438,233 434,234 430,234" fill="none" stroke="#fff" stroke-width=".8" stroke-linecap="round"/><path class="w" style="stroke-width:.8;fill:#dcdcdc" d="M396,208 C394,215 393,225 395,232 L398.7,234.8 C399,248 400,262 403,276 C404,281 405,285 405.6,287 C408,290 414,291.2 417.4,290 C417.6,287.5 414,285.5 412,284.5 C410.5,272 409.5,258 410,244 L413,241 C416,252 419,265 423.6,282 C425,286 431,288.6 437.4,288 C437.6,285.5 434,283.5 432,282 C430,268 427,252 424,236 L423,218 C422,208 421,200 418.6,195 L404,193.2 C400,196 398,201 396,208 Z"/><path fill="#a8a8a8" d="M401.8,252.5 L406.2,252 L406.4,263.5 L402,263.8 Z M422.4,248.5 L426.6,248 L427,259.6 L423,260 Z"/><path style="fill:#fff;stroke:#444;stroke-width:.7" d="M404,193.2 C398,194 394,198 393,205 C392,213 393,222 396,226 L398.5,229.5 C401,232 405,233 408,233.5 L410.5,232 L406,228 L400,222 L398,213 L400.5,203 L403.5,200.6 L406.5,212 L417,212 L418.6,200 L419.5,205 C420,214 421,222 423,228 C425,230 428,229.5 430.5,228.5 L431,226 C428.5,224.5 427,223 426.5,221 C425,212 424,204 421.5,196 L418.6,195 Z"/><path class="w" style="stroke-width:.8" d="M404.5,184 C404,187.5 405,191 407.5,193 C410,194.5 414,194 416.5,191.5 L417.4,184.5 Z"/><path class="w" style="stroke-width:.8" d="M403,182.4 C402.5,176 406.5,171 412.5,170.6 C418.5,170.4 422,174.5 422,180 L423,182 C423,184 421,184.6 418,184.4 L403.5,184.2 Z"/><path d="M411.2,232.3 C405,240 398,255 393,266 C390,274 391,283 394,287.5 C396,290 399,290 402,289" fill="none" stroke="#333" stroke-width="2" stroke-linecap="round"/><path d="M411.2,232.3 C405,240 398,255 393,266 C390,274 391,283 394,287.5 C396,290 399,290 402,289" fill="none" stroke="#fff" stroke-width=".8" stroke-linecap="round"/><g transform="translate(439.2,271) scale(1.24)"><path class="w" d="M0,6.8 L4.8,4.1 L22.3,4.1 L8.9,8.9 Z" style="fill:#e6e6e6;stroke:#444;stroke-width:.8"/><path class="w" d="M0,6.8 L8.9,8.9 L8.9,19.5 L0,18.5 Z" style="fill:#d4d4d4;stroke:#444;stroke-width:.8"/><path class="w" d="M8.9,8.9 L22.3,4.1 L22.3,14.7 L8.9,19.5 Z" style="fill:#dadada;stroke:#444;stroke-width:.8"/><line class="t" x1="0" y1="12.7" x2="8.9" y2="13.9" /><line class="t" x1="8.9" y1="13.9" x2="22.3" y2="9.3" /><path class="l" d="M4.8,6.8 L4.8,1.9 L17.8,-0.3 L17.8,4.8" style="stroke-width:.9"/><path class="t" d="M6.1,6.3 L6.1,2.9 L16.6,1.1 L16.6,4.8" /></g>
<path d="M225.8,382.5 L327.6,347.3 L396,365 L401.2,366.6 L401.6,479.1 L300.8,528.6 L220.5,485.6 L220.5,392.6 L225.4,390.6 Z" fill="#fff"/><path d="M220.5,486 L220.5,392.8 L225.2,391 L225.8,382.5 L327.6,347.3 L395.5,365" fill="none" stroke="#1a1a1a" stroke-width="1.9" stroke-linejoin="round"/><path d="M225.8,382.5 L297.9,407.3" fill="none" stroke="#1a1a1a" stroke-width="1.9"/><path d="M220.5,485.6 L300.6,528.6" fill="none" stroke="#1a1a1a" stroke-width="2"/><path d="M297.4,406.6 L398.6,366.4 C400.6,365.7 402.4,366.4 402.4,368.2 L402.4,393 L297.4,435.5 Z" fill="#fff" stroke="#1a1a1a" stroke-width="1.9" stroke-linejoin="round"/><path d="M301.6,408.5 L401.5,369.3" fill="none" stroke="#333" stroke-width="0.7" stroke-linejoin="round"/><path d="M301.6,408.5 L301.6,434" fill="none" stroke="#333" stroke-width="0.7" stroke-linejoin="round"/><path d="M300,436.8 L402.2,394.2 L402.2,479.1 L300.4,528.6 Z" fill="#fff" stroke="#1a1a1a" stroke-width="1.9" stroke-linejoin="round"/><path d="M302.2,438.6 L401.4,397.4" stroke="#333" stroke-width="1.1" stroke-dasharray=".9,.7" fill="none"/><path d="M302.6,438.6 L302.6,527.4" fill="none" stroke="#333" stroke-width="0.7" stroke-linejoin="round"/><path d="M313.8,450 L389.5,418.5 L389.5,469.6 L313.8,505 L313.8,450" fill="none" stroke="#222" stroke-width="1.0" stroke-linejoin="round"/><path d="M312.7,452 C311.2,449.5 311.8,446.8 314.5,445.8 L391.5,413.6 C394.2,412.8 395.8,415 394.6,418 L392.2,419" fill="none" stroke="#1a1a1a" stroke-width="4.2" stroke-linecap="round" stroke-linejoin="round"/><path d="M312.7,452 C311.2,449.5 311.8,446.8 314.5,445.8 L391.5,413.6 C394.2,412.8 395.8,415 394.6,418 L392.2,419" fill="none" stroke="#fff" stroke-width="1.9" stroke-linecap="round" stroke-linejoin="round"/><path d="M339.5,470 L360,443.5" fill="none" stroke="#333" stroke-width="0.9" stroke-linejoin="round"/><path d="M342,472 L362.5,445.5" fill="none" stroke="#333" stroke-width="0.9" stroke-linejoin="round"/><path d="M354.5,471 L373,448.5" fill="none" stroke="#333" stroke-width="0.9" stroke-linejoin="round"/><path d="M357,473 L375.5,450.5" fill="none" stroke="#333" stroke-width="0.9" stroke-linejoin="round"/><ellipse cx="257" cy="410.8" rx="5.2" ry="4.2" transform="rotate(-30 257 410.8)" fill="#fff" stroke="#222" stroke-width=".8"/><circle cx="401.6" cy="476.5" r="5.6" fill="none" stroke="#333" stroke-width=".7"/><path d="M195.5,382.5 L220.1,393.1" fill="none" stroke="#333" stroke-width="0.7" stroke-linejoin="round"/><line x1="195.5" y1="382.5" x2="233.3" y2="370.1" stroke="#222" stroke-width=".8" marker-start="url(#ah)" /><line x1="256" y1="362.6" x2="312.7" y2="344" stroke="#222" stroke-width=".8"  marker-end="url(#ah)"/><path d="M312.7,344 L327.6,347.3" fill="none" stroke="#333" stroke-width="0.7" stroke-linejoin="round"/><path d="M327.6,347.3 L350.9,337.7" fill="none" stroke="#333" stroke-width="0.7" stroke-linejoin="round"/><line x1="350.9" y1="337.7" x2="367.5" y2="342.8" stroke="#222" stroke-width=".8" marker-start="url(#ah)" /><line x1="387.5" y1="349" x2="416.2" y2="357.9" stroke="#222" stroke-width=".8"  marker-end="url(#ah)"/><path d="M401.6,366.3 L444.8,345.1" fill="none" stroke="#333" stroke-width="0.7" stroke-linejoin="round"/><path d="M401.6,368.8 L446,347.3" fill="none" stroke="#333" stroke-width="0.7" stroke-linejoin="round"/><circle cx="444.8" cy="345.1" r="1.4" fill="#1a1a1a"/><line x1="449.4" y1="347.3" x2="449.4" y2="410" stroke="#222" stroke-width=".8" marker-start="url(#ah)" /><line x1="449.4" y1="428" x2="449.4" y2="498.8" stroke="#222" stroke-width=".8"  marker-end="url(#ah)"/><path d="M417.8,386.5 L401.6,392.8" fill="none" stroke="#333" stroke-width="0.7" stroke-linejoin="round"/><circle cx="417.8" cy="386.5" r="1.4" fill="#1a1a1a"/><line x1="417.6" y1="361" x2="417.6" y2="401" stroke="#222" stroke-width=".8" marker-start="url(#ah)" /><line x1="417.6" y1="418" x2="417.5" y2="486.5" stroke="#222" stroke-width=".8"  marker-end="url(#ah)"/><path d="M184.5,405.8 L220.1,393.1" fill="none" stroke="#333" stroke-width="0.7" stroke-linejoin="round"/><line x1="184.5" y1="406.9" x2="184.5" y2="452" stroke="#222" stroke-width=".8" marker-start="url(#ah)" /><line x1="184.5" y1="469" x2="184.5" y2="501" stroke="#222" stroke-width=".8"  marker-end="url(#ah)"/><path d="M233.9,417.5 L275.6,400.5" fill="none" stroke="#333" stroke-width="0.7" stroke-linejoin="round"/><line x1="233.9" y1="418" x2="233.9" y2="462" stroke="#222" stroke-width=".8" marker-start="url(#ah)" /><line x1="234.4" y1="479" x2="234.7" y2="534.7" stroke="#222" stroke-width=".8"  marker-end="url(#ah)"/><path d="M234.7,534.7 L277.8,515.2" fill="none" stroke="#333" stroke-width="0.7" stroke-linejoin="round"/><path d="M154.4,512 L220.5,486" fill="none" stroke="#333" stroke-width="0.7" stroke-linejoin="round"/><line x1="154.4" y1="512" x2="186.5" y2="531.5" stroke="#222" stroke-width=".8" marker-start="url(#ah)" /><line x1="203" y1="541.6" x2="234.3" y2="561.2" stroke="#222" stroke-width=".8"  marker-end="url(#ah)"/><path d="M234.3,561.2 L300.8,528.6" fill="none" stroke="#333" stroke-width="0.7" stroke-linejoin="round"/><path d="M300.8,528.6 L351,552.2" fill="none" stroke="#333" stroke-width="0.7" stroke-linejoin="round"/><line x1="351" y1="552.2" x2="393" y2="529.8" stroke="#222" stroke-width=".8" marker-start="url(#ah)" /><line x1="416" y1="517.6" x2="448.9" y2="500.2" stroke="#222" stroke-width=".8"  marker-end="url(#ah)"/><path d="M399,480.5 L449,498.8" fill="none" stroke="#333" stroke-width="0.7" stroke-linejoin="round"/><path d="M401.6,479.1 L449,497.5" fill="none" stroke="#333" stroke-width="0.6" stroke-linejoin="round"/><path d="M449,498.8 L475,503.8" fill="none" stroke="#333" stroke-width="0.7" stroke-linejoin="round"/><path d="M401.6,469.6 L498,405.1" fill="none" stroke="#333" stroke-width="0.7" stroke-linejoin="round"/><path d="M449,498.8 L498,511.6" fill="none" stroke="#333" stroke-width="0.7" stroke-linejoin="round"/><text class="b" x="244.9" y="367.9" font-size="11" text-anchor="middle"  textLength="17.6" lengthAdjust="spacingAndGlyphs">557</text><text class="b" x="377.4" y="347" font-size="11" text-anchor="middle"  textLength="17.6" lengthAdjust="spacingAndGlyphs">423</text><text class="b" x="453.2" y="340.8" font-size="11" text-anchor="middle"  textLength="11.6" lengthAdjust="spacingAndGlyphs">20</text><text class="b" x="424.8" y="380.7" font-size="11" text-anchor="middle"  textLength="11.6" lengthAdjust="spacingAndGlyphs">97</text><text class="b" x="415.7" y="412.9" font-size="11" text-anchor="middle"  textLength="17.6" lengthAdjust="spacingAndGlyphs">478</text><text class="b" x="448" y="422.6" font-size="11" text-anchor="middle"  textLength="17.6" lengthAdjust="spacingAndGlyphs">595</text><text class="b" x="184.3" y="464" font-size="11" text-anchor="middle"  textLength="17.6" lengthAdjust="spacingAndGlyphs">530</text><text class="b" x="235.5" y="473.9" font-size="11" text-anchor="middle"  textLength="17.6" lengthAdjust="spacingAndGlyphs">570</text><text class="b" x="196.6" y="539.8" font-size="11" text-anchor="middle"  textLength="17.6" lengthAdjust="spacingAndGlyphs">549</text><text class="b" x="404.9" y="524.8" font-size="11" text-anchor="middle"  textLength="17.6" lengthAdjust="spacingAndGlyphs">595</text>
<clipPath id="dbox"><rect x="493.6" y="404.3" width="150" height="107.8" rx="8" ry="8"/></clipPath><rect x="493.6" y="404.3" width="150" height="107.8" rx="8" ry="8" fill="#fff"/><g clip-path="url(#dbox)"><rect x="493.6" y="488.7" width="59.5" height="11.2" fill="#ededed"/><rect x="493.6" y="488.4" width="59.5" height="1.3" fill="#555"/><path d="M516.4,494.4 C522.6,493.9 530.9,494.9 537.2,494.4" stroke="#3a3a3a" stroke-width="0.7" fill="none" stroke-linecap="round"/><path d="M501.4,495.6 C505.6,495.1 511.3,496.1 515.6,495.8" stroke="#3a3a3a" stroke-width="0.8" fill="none" stroke-linecap="round"/><path d="M506.1,491.2 C508.4,490.7 511.4,491.7 513.6,491.4" stroke="#3a3a3a" stroke-width="0.9" fill="none" stroke-linecap="round"/><path d="M533.3,490.8 C539.7,490.3 548.3,491.3 552.5,490.9" stroke="#3a3a3a" stroke-width="0.8" fill="none" stroke-linecap="round"/><path d="M494.6,491.8 C498.9,491.3 504.7,492.3 509.1,491.5" stroke="#3a3a3a" stroke-width="0.4" fill="none" stroke-linecap="round"/><path d="M495.2,492.5 C499.2,492 504.6,493 508.6,492.8" stroke="#3a3a3a" stroke-width="0.7" fill="none" stroke-linecap="round"/><path d="M519.6,495 C523.8,494.5 529.4,495.5 533.6,494.9" stroke="#3a3a3a" stroke-width="0.8" fill="none" stroke-linecap="round"/><path d="M533.9,492.8 C540.5,492.3 549.3,493.3 552.5,493" stroke="#3a3a3a" stroke-width="0.9" fill="none" stroke-linecap="round"/><path d="M503.2,493.2 C506.4,492.7 510.6,493.7 513.8,493.4" stroke="#3a3a3a" stroke-width="0.4" fill="none" stroke-linecap="round"/><path d="M527.9,493.9 C531.5,493.4 536.4,494.4 540,494.2" stroke="#3a3a3a" stroke-width="1" fill="none" stroke-linecap="round"/><path d="M502.4,490.4 C508.6,489.9 516.8,490.9 523,490.8" stroke="#3a3a3a" stroke-width="0.7" fill="none" stroke-linecap="round"/><path d="M496.9,493.9 C501.7,493.4 508.2,494.4 513,493.7" stroke="#3a3a3a" stroke-width="0.9" fill="none" stroke-linecap="round"/><path d="M507.3,491.2 C513.7,490.7 522.3,491.7 528.7,490.9" stroke="#3a3a3a" stroke-width="0.9" fill="none" stroke-linecap="round"/><path d="M498,492.6 C500.1,492.1 502.9,493.1 505,492.3" stroke="#3a3a3a" stroke-width="0.9" fill="none" stroke-linecap="round"/><path d="M494,489.6 L552.8,489.8" stroke="#999" stroke-width=".35" fill="none"/><path d="M494,490.9 L552.8,491.1" stroke="#999" stroke-width=".35" fill="none"/><path d="M494,492.2 L552.8,492.4" stroke="#999" stroke-width=".35" fill="none"/><path d="M494,493.5 L552.8,493.7" stroke="#999" stroke-width=".35" fill="none"/><path d="M494,494.8 L552.8,495" stroke="#999" stroke-width=".35" fill="none"/><path d="M494,496.1 L552.8,496.3" stroke="#999" stroke-width=".35" fill="none"/><path d="M494,497.4 L552.8,497.6" stroke="#999" stroke-width=".35" fill="none"/><path d="M494,498.7 L552.8,498.9" stroke="#999" stroke-width=".35" fill="none"/><rect x="547.5" y="500.6" width="21.9" height="12" fill="#f2f2f2" stroke="#444" stroke-width=".6"/><path d="M549,501.5 C549.8,504 548.4,507 549.4,511.5" stroke="#777" stroke-width=".5" fill="none"/><path d="M551.6,501.5 C552.4,504 551,507 552,511.5" stroke="#777" stroke-width=".5" fill="none"/><path d="M554.2,501.5 C555,504 553.6,507 554.6,511.5" stroke="#777" stroke-width=".5" fill="none"/><path d="M556.8,501.5 C557.6,504 556.2,507 557.2,511.5" stroke="#777" stroke-width=".5" fill="none"/><path d="M559.4,501.5 C560.2,504 558.8,507 559.8,511.5" stroke="#777" stroke-width=".5" fill="none"/><path d="M562,501.5 C562.8,504 561.4,507 562.4,511.5" stroke="#777" stroke-width=".5" fill="none"/><path d="M564.6,501.5 C565.4,504 564,507 565,511.5" stroke="#777" stroke-width=".5" fill="none"/><path d="M567.2,501.5 C568,504 566.6,507 567.6,511.5" stroke="#777" stroke-width=".5" fill="none"/></g><rect x="493.6" y="404.3" width="150" height="107.8" rx="8" ry="8" fill="none" stroke="#333" stroke-width=".8"/><path d="M551.4,404.3 L551.4,487.5" fill="none" stroke="#333" stroke-width="0.7" stroke-linejoin="round"/><path d="M557.6,404.3 L557.6,487.5" fill="none" stroke="#777" stroke-width="0.7" stroke-linejoin="round"/><path d="M562.3,404.3 L562.3,487.5 L493.6,487.5" fill="none" stroke="#1a1a1a" stroke-width="2.2"/><path d="M493.6,500.4 L547.5,500.4" fill="none" stroke="#333" stroke-width="0.7" stroke-linejoin="round"/><path d="M553.1,488.7 L553.1,499.9 L616.1,499.9" fill="none" stroke="#222" stroke-width="0.8" stroke-linejoin="round"/><path d="M562.4,488 L562.6,492 L564.5,494 L616.1,494" fill="none" stroke="#222" stroke-width="0.9" stroke-linejoin="round"/><path d="M562.4,488.5 L616.1,488.5" fill="none" stroke="#888" stroke-width="0.7" stroke-linejoin="round"/><path d="M616.1,488.5 L616.1,499.9" fill="none" stroke="#222" stroke-width="0.8" stroke-linejoin="round"/><circle cx="616.1" cy="488.5" r="1.1" fill="#1a1a1a"/><circle cx="616.1" cy="494" r="1.1" fill="#1a1a1a"/><circle cx="616.1" cy="499.9" r="1.1" fill="#1a1a1a"/><path d="M562.4,445.3 C572,446 585,449 592.8,455.6" fill="none" stroke="#999" stroke-width=".6"/><circle cx="592.8" cy="455.6" r="1.2" fill="#1a1a1a"/><circle cx="562.4" cy="445.3" r="0.9" fill="#1a1a1a"/><path d="M643.6,450.1 L592.8,455.6 L581.6,457.4 L580.5,459 L579.1,472.7" fill="none" stroke="#1a1a1a" stroke-width="1.0" stroke-linejoin="round"/><path d="M566.5,479.4 L643.6,467.6 L643.6,470.6 L568,480.8 C566,481.2 565.6,480 566.5,479.4 Z" fill="#fff" stroke="#222" stroke-width=".9"/><path d="M568,478.3 L643.6,466.4" fill="none" stroke="#333" stroke-width="0.6" stroke-linejoin="round"/><path d="M562.4,459 L567,463.8 L575,464.8 L579.8,465" fill="none" stroke="#333" stroke-width="0.6" stroke-linejoin="round"/><path d="M562.4,468 L565,470.5 L562.6,474" fill="none" stroke="#333" stroke-width="0.6" stroke-linejoin="round"/><path d="M562.6,474 L566,473.8 L572,472.5 L579.1,472.5" fill="none" stroke="#333" stroke-width="0.6" stroke-linejoin="round"/><text class="b" x="601.2" y="439" font-size="10.5" text-anchor="middle" >89° max</text><text class="b" x="622.8" y="490.2" font-size="10.5" text-anchor="middle" >5</text><text class="b" x="622.8" y="502.2" font-size="10.5" text-anchor="middle" >4</text>
<path d="M175,664 L206.4,650 L206.4,721.4 L175,730.5 Z" fill="#f9f9f9"/><path d="M130,640.7 L130,740.6" fill="none" stroke="#222" stroke-width="0.9" stroke-linejoin="round"/><path d="M131.3,740.6 L171.5,763.3" fill="none" stroke="#222" stroke-width="0.9" stroke-linejoin="round"/><rect x="171.5" y="661" width="3.5" height="102.3" fill="#fff" stroke="#222" stroke-width=".8"/><rect x="249.1" y="631" width="4.4" height="108" fill="#fff" stroke="#222" stroke-width=".8"/><path d="M206.4,650 L206.4,721.4" fill="none" stroke="#222" stroke-width="0.8" stroke-linejoin="round"/><path d="M175,729.9 L206.4,721.4" fill="none" stroke="#222" stroke-width="0.8" stroke-linejoin="round"/><path d="M175,733.9 L214.9,723.4 L248.8,738.9" fill="none" stroke="#222" stroke-width="0.8" stroke-linejoin="round"/><path d="M175,761.3 L248.8,739.4" fill="none" stroke="#222" stroke-width="0.9" stroke-linejoin="round"/><path d="M175,763.8 L249.5,741.9" fill="none" stroke="#444" stroke-width="0.7" stroke-linejoin="round"/><path d="M206.4,721.4 L215.1,724" fill="none" stroke="#444" stroke-width="0.6" stroke-linejoin="round"/><path d="M132.2,741.5 L132.2,752 C132.2,753 137.2,753 137.2,752 L137.2,741.5" fill="#fff" stroke="#333" stroke-width=".8"/><path d="M167.5,763.5 L167.5,772 C167.5,773 172.5,773 172.5,772 L172.5,763.5" fill="#fff" stroke="#333" stroke-width=".8"/><path d="M242.4,740.6 L242.4,752 C242.4,753 247.4,753 247.4,752 L247.4,740.6" fill="#fff" stroke="#333" stroke-width=".8"/><path d="M179.5,728.9 L183,709.5 L177.2,709.2 L186.5,697.8 L193.9,706 L187.5,708.5 L187,727.4 Z" fill="#adadad" stroke="#444" stroke-width=".6" stroke-linejoin="round"/><path d="M182,739.4 L184,733.4 L201.9,735.4 L194.4,736.9 L205.4,742.2 L199.9,744.4 L191.9,738.9 Z" fill="#fff" stroke="#666" stroke-width=".6" stroke-linejoin="round"/><path d="M203,743.9 C207,745.5 212,746.5 216.9,746.9 M202,744.5 L200.9,750.8" fill="none" stroke="#777" stroke-width=".5"/><path d="M212.5,751.5 L217,751 L247.5,764.2 L236,768.5 Z" fill="#a8a8a8" stroke="#444" stroke-width=".6" stroke-linejoin="round"/><path d="M130,635.5 L262.1,605.1 L300,598 L300,627.2 L175.7,656.1 Z" fill="#fff"/><path d="M130,635.5 L262.1,605.1" fill="none" stroke="#222" stroke-width="0.9" stroke-linejoin="round"/><path d="M130,635.5 L175.7,656.1 L300,627.2" fill="none" stroke="#1a1a1a" stroke-width="1.0" stroke-linejoin="round"/><path d="M130,635.5 L175.7,656.1 L175.7,661.3 L130,640.7 Z" fill="#fff" stroke="#222" stroke-width=".9"/><path d="M175.7,656.1 L300,627.2 L300,631.9 L175.7,661.3 Z" fill="#fff"/><path d="M175.7,656.1 L300,627.2" fill="none" stroke="#222" stroke-width="0.9" stroke-linejoin="round"/><path d="M175.7,661.3 L300,631.9" fill="none" stroke="#222" stroke-width="0.9" stroke-linejoin="round"/><path d="M175.7,656.1 L175.7,661.3" fill="none" stroke="#222" stroke-width="0.9" stroke-linejoin="round"/><path class="l" d="M150.8,636 L204.1,624.1 L234.9,637.6 L182.8,650.1 Z" style="stroke-width:.75;stroke:#333"/><path class="t" d="M154.5,636.4 L204,625.8 L230.8,637.5 L183,648.2 Z" style="stroke:#aaa;stroke-width:.5"/><path d="M206.5,596.2 L206.5,650" fill="none" stroke="#333" stroke-width="0.7" stroke-linejoin="round"/><line x1="206.5" y1="596.5" x2="248.4" y2="613.6" stroke="#222" stroke-width="0.7" marker-start="url(#ahs)" marker-end="url(#ahs)"/><path d="M175.7,661.3 L206.5,674.5" fill="none" stroke="#444" stroke-width="0.6" stroke-linejoin="round"/><line x1="206.5" y1="674.5" x2="216" y2="672" stroke="#222" stroke-width="0.7" marker-start="url(#ahs)" /><line x1="238" y1="665.6" x2="275.4" y2="656.1" stroke="#222" stroke-width="0.7"  marker-end="url(#ahs)"/><path d="M249.3,644.2 L286,659.8" fill="none" stroke="#444" stroke-width="0.6" stroke-linejoin="round"/><line x1="286" y1="659.8" x2="286" y2="690" stroke="#222" stroke-width="0.7" marker-start="url(#ahs)" /><line x1="286" y1="707" x2="285.4" y2="752.7" stroke="#222" stroke-width="0.7"  marker-end="url(#ahs)"/><path d="M253.5,739.8 L285.4,752.7" fill="none" stroke="#444" stroke-width="0.6" stroke-linejoin="round"/><line x1="83.5" y1="737.9" x2="102.5" y2="749.4" stroke="#222" stroke-width="0.7"  marker-end="url(#ahs)"/><path d="M102.5,749.4 L131.5,741.3" fill="none" stroke="#444" stroke-width="0.6" stroke-linejoin="round"/><path d="M107.9,752.9 L131.5,746.1" fill="none" stroke="#444" stroke-width="0.6" stroke-linejoin="round"/><line x1="107.9" y1="752.9" x2="140.2" y2="773.2" stroke="#222" stroke-width="0.7" marker-start="url(#ahs)" marker-end="url(#ahs)"/><path d="M140.2,773.2 L171.5,763.3" fill="none" stroke="#444" stroke-width="0.6" stroke-linejoin="round"/><path d="M248.6,613.7 L248.6,645" fill="none" stroke="#333" stroke-width="0.7" stroke-linejoin="round"/><text class="b" x="249.2" y="601" font-size="11" text-anchor="middle"  textLength="42.3" lengthAdjust="spacingAndGlyphs">min 560</text><text class="b" x="226.9" y="674.8" font-size="11" text-anchor="middle"  textLength="18.7" lengthAdjust="spacingAndGlyphs">560</text><text class="b" x="286" y="701.6" font-size="11" text-anchor="middle"  textLength="19.5" lengthAdjust="spacingAndGlyphs">600</text><text class="b" x="97" y="761" font-size="11" text-anchor="middle"  textLength="12.9" lengthAdjust="spacingAndGlyphs">40</text>
<path d="M126.9,842 L126.9,894.7 L168.3,917" fill="none" stroke="#999" stroke-width="0.6" stroke-linejoin="round"/><path d="M126.9,842 L168.3,850" fill="none" stroke="#bbb" stroke-width="0.5" stroke-linejoin="round"/><path d="M125.6,846.3 L125.6,836 L122.8,836.3 L129.5,828.3 L136.5,834.8 L133.5,835 L133.5,846" fill="none" stroke="#aaa" stroke-width=".7"/><path d="M130,832 L141,829 L143,832.5 L132.5,835" fill="none" stroke="#bbb" stroke-width=".6"/><path class="w" d="M168.3,846.3 L231.6,831 L231.6,901 L168.3,917 Z" style="stroke-width:.9"/><path d="M170.5,846 L170.5,916.5" fill="none" stroke="#444" stroke-width="0.6" stroke-linejoin="round"/><path d="M168.3,860.7 L231.6,846" fill="none" stroke="#222" stroke-width="0.8" stroke-linejoin="round"/><path d="M168.3,862.6 L231.6,848" fill="none" stroke="#555" stroke-width="0.6" stroke-linejoin="round"/><path class="l" d="M179.3,866.5 L221.2,856 L221.2,886.9 L179.3,898.7 Z" style="stroke-width:.9"/><path d="M175.5,866.5 C174.5,864.5 175.5,863 177.5,862.5 L219.5,852 C221.5,851.6 222.5,853 221.8,854.8" fill="none" stroke="#222" stroke-width="2.8" stroke-linecap="round"/><path d="M175.5,866.5 C174.5,864.5 175.5,863 177.5,862.5 L219.5,852 C221.5,851.6 222.5,853 221.8,854.8" fill="none" stroke="#fff" stroke-width="1.2" stroke-linecap="round"/><path d="M196,880 L202,872" fill="none" stroke="#333" stroke-width="0.7" stroke-linejoin="round"/><path d="M198,882 L204,874" fill="none" stroke="#333" stroke-width="0.7" stroke-linejoin="round"/><path d="M168.3,903 L231.6,887.5" fill="none" stroke="#444" stroke-width="0.7" stroke-linejoin="round"/><path d="M168.3,917 L168.3,938" fill="none" stroke="#222" stroke-width="0.8" stroke-linejoin="round"/><path d="M231.6,901 L231.6,890.5" fill="none" stroke="#444" stroke-width="0.6" stroke-linejoin="round"/><path d="M155.7,938 L280,889.5" stroke="#1a1a1a" stroke-width="1.5"/><path d="M185.8,936.6 L280,901.3" fill="none" stroke="#222" stroke-width="0.8" stroke-linejoin="round"/><path d="M231.6,866 L231.6,890.5" fill="none" stroke="#444" stroke-width="0.6" stroke-linejoin="round"/><path d="M95.5,821.4 L200.2,801.8" fill="none" stroke="#222" stroke-width="0.9" stroke-linejoin="round"/><path d="M99.4,852.8 L280,812.3 L280,821.4 L106,863.3 Z" fill="#fff"/><path d="M99.4,852.8 L280,812.3" fill="none" stroke="#222" stroke-width="0.9" stroke-linejoin="round"/><path d="M104,856.5 L280,815.5" fill="none" stroke="#666" stroke-width="0.6" stroke-linejoin="round"/><path d="M106,860.5 L280,818.3" fill="none" stroke="#333" stroke-width="0.8" stroke-linejoin="round"/><path d="M106,863.3 L280,821.4" fill="none" stroke="#222" stroke-width="0.9" stroke-linejoin="round"/><path d="M104,856.5 L106,863.3" fill="none" stroke="#333" stroke-width="0.7" stroke-linejoin="round"/><path class="w" d="M128.2,820.1 L191,808.9 L217.2,821.4 L157,834 Z" style="stroke-width:1"/><path class="t" d="M133.5,820.6 L191,810.5 L212.3,821.2 L157.4,832.1 Z" style="stroke:#aaa;stroke-width:.5"/><path d="M221.2,833.2 L263,849" fill="none" stroke="#444" stroke-width="0.7" stroke-linejoin="round"/><path d="M221.2,836 L262.5,851.6" fill="none" stroke="#888" stroke-width="0.5" stroke-linejoin="round"/><path d="M263.6,826.7 L263.6,846.3" fill="none" stroke="#222" stroke-width="0.7" stroke-linejoin="round"/><path d="M261.2,840.5 L263.6,846.8 L266,840.5 Z" fill="#1a1a1a"/><path d="M263.6,852.8 L263.6,872.5" fill="none" stroke="#222" stroke-width="0.7" stroke-linejoin="round"/><path d="M261.2,858.8 L263.6,852.3 L266,858.8 Z" fill="#1a1a1a"/><text class="b" x="270.2" y="855.6" font-size="13.5" text-anchor="middle" >5</text><path d="M184.5,840.8 L185.8,838.6 L203.5,847.5 L204.5,845.5 L209.5,854.5 L199.5,853.6 L201.2,851.6 L184.5,843.5 Z" fill="#adadad" stroke="#444" stroke-width=".6"/>
<path d="M474.3,659.3 L505.5,652.8 L505.5,719.2 L474.3,726 Z" fill="#eeeeee"/><path d="M474.3,755.7 L505.5,749.5 L505.5,893.5 L474.3,899.3 Z" fill="#eeeeee"/><path class="w" d="M427,637.7 L505.6,622.1 L552.4,639.2 L469.8,656.4 Z" style="stroke-width:.9"/><path d="M427,637.7 L427.2,917.5 L469.8,931.5" fill="none" stroke="#333" stroke-width="0.9" stroke-linejoin="round"/><path d="M469.8,656.4 L469.8,931.5" stroke="#333" stroke-width=".8"/><path d="M474.1,659.3 L474.1,930" stroke="#1a1a1a" stroke-width="1.6"/><path d="M550.2,644.4 L550.2,912" stroke="#1a1a1a" stroke-width="1.6"/><path d="M554.1,640 L554.1,914" stroke="#333" stroke-width=".8"/><path d="M474.1,659.3 L550.2,644.4" stroke="#1a1a1a" stroke-width="1.1"/><path d="M552.4,639.2 L554.1,640" fill="none" stroke="#333" stroke-width="0.8" stroke-linejoin="round"/><path d="M505.5,652.8 L505.5,719.2" fill="none" stroke="#444" stroke-width="0.7" stroke-linejoin="round"/><path d="M474.3,726 L505.5,719.2 L549.8,736.6" fill="none" stroke="#222" stroke-width="0.9" stroke-linejoin="round"/><path d="M474.3,751 L549.8,736.6" fill="none" stroke="#1a1a1a" stroke-width="1.0" stroke-linejoin="round"/><path d="M474.3,754.4 L550.4,739.6" fill="none" stroke="#222" stroke-width="0.9" stroke-linejoin="round"/><path d="M505.5,749.5 L505.5,806.9" fill="none" stroke="#444" stroke-width="0.7" stroke-linejoin="round"/><path d="M474.6,814 L505.3,806.9 L549.7,819.7 L549.7,823.5 L474.6,836.5 Z" fill="#fff"/><path d="M474.6,814 L505.3,806.9 L549.7,819.7" fill="none" stroke="#222" stroke-width="0.9" stroke-linejoin="round"/><path d="M474.6,833.1 L549.7,820.3" fill="none" stroke="#1a1a1a" stroke-width="1.0" stroke-linejoin="round"/><path d="M474.6,836.5 L549.7,823.5" fill="none" stroke="#222" stroke-width="0.9" stroke-linejoin="round"/><path d="M505.5,836 L505.5,893.5" fill="none" stroke="#444" stroke-width="0.7" stroke-linejoin="round"/><path d="M474.7,899.3 L505.9,893.5 L549.6,909.7" fill="none" stroke="#222" stroke-width="0.9" stroke-linejoin="round"/><path d="M473.5,924.7 L549.6,911" fill="none" stroke="#1a1a1a" stroke-width="1.0" stroke-linejoin="round"/><path d="M473.5,927.6 L550.8,914.2" fill="none" stroke="#222" stroke-width="0.9" stroke-linejoin="round"/><path d="M429.9,917.5 L429.9,924.5 C429.9,925.5 434.7,925.5 434.7,924.5 L434.7,917.5" fill="#fff" stroke="#333" stroke-width=".8"/><path d="M466,931.5 L466,938 C466,939 470.8,939 470.8,938 L470.8,931.5" fill="#fff" stroke="#333" stroke-width=".8"/><path d="M543.6,914.5 L543.6,924.5 C543.6,925.5 548.4,925.5 548.4,924.5 L548.4,914.5" fill="#fff" stroke="#333" stroke-width=".8"/><path d="M477.5,858.7 L481.7,801.8 L474.7,802.2 L484.4,790.2 L492.8,799 L485.4,801.3 L485.8,857.3 Z" fill="#adadad" stroke="#444" stroke-width=".7" stroke-linejoin="round"/><path d="M480.5,815 L484.8,814.5 L484.9,836.5 L479.2,837.3 Z" fill="#fff" stroke="#999" stroke-width=".5"/><path d="M483,876.3 L486.8,869.8 L504.8,872.1 L500,873.8 L509.4,878.6 L499.3,881.4 L494.5,875.5 Z" fill="#e6e6e6" stroke="#666" stroke-width=".6" stroke-linejoin="round"/><path d="M474.6,833.1 L549.7,820.3" fill="none" stroke="#1a1a1a" stroke-width="1.0" stroke-linejoin="round"/><path d="M474.6,836.5 L549.7,823.5" fill="none" stroke="#222" stroke-width="0.9" stroke-linejoin="round"/><path d="M474.6,814 L505.3,806.9" fill="none" stroke="#222" stroke-width="0.9" stroke-linejoin="round"/><path d="M505.6,592.5 L505.6,652.8" fill="none" stroke="#333" stroke-width="0.7" stroke-linejoin="round" stroke-dasharray="1.6,1.3"/><path d="M550.2,608 L550.2,640" fill="none" stroke="#333" stroke-width="0.7" stroke-linejoin="round"/><line x1="505.6" y1="592.5" x2="550.2" y2="608" stroke="#222" stroke-width=".8" marker-start="url(#ah)" marker-end="url(#ah)"/><path d="M473.9,755.7 L500.8,768" fill="none" stroke="#333" stroke-width="0.7" stroke-linejoin="round"/><line x1="500.8" y1="768" x2="512" y2="765" stroke="#222" stroke-width=".8" marker-start="url(#ah)" /><line x1="545" y1="755" x2="578.2" y2="751.2" stroke="#222" stroke-width=".8"  marker-end="url(#ah)"/><path d="M554.2,741.1 L578.2,751.2" fill="none" stroke="#333" stroke-width="0.7" stroke-linejoin="round"/><path d="M554.2,738.5 L588.3,732.5" fill="none" stroke="#333" stroke-width="0.7" stroke-linejoin="round"/><line x1="588.3" y1="732.5" x2="588.3" y2="768" stroke="#222" stroke-width=".8" marker-start="url(#ah)" /><line x1="588.3" y1="787" x2="588.3" y2="812.9" stroke="#222" stroke-width=".8"  marker-end="url(#ah)"/><path d="M554.2,819.7 L588.3,812.9" fill="none" stroke="#333" stroke-width="0.7" stroke-linejoin="round"/><path d="M554,818.7 L569.5,815.5" fill="none" stroke="#555" stroke-width="0.6" stroke-linejoin="round"/><path d="M378.7,813.7 L399.4,826.2" fill="none" stroke="#222" stroke-width="0.7" stroke-linejoin="round"/><path d="M391.5,823 L399.4,826.2 L393.5,819.8 Z" fill="#1a1a1a"/><path d="M423.6,842.4 L404.9,829.4" fill="none" stroke="#222" stroke-width="0.7" stroke-linejoin="round"/><path d="M410.5,836.2 L404.9,829.4 L412.8,832.8 Z" fill="#1a1a1a"/><path d="M399.4,826.2 L505,806.3" fill="none" stroke="#666" stroke-width="0.6" stroke-linejoin="round"/><path d="M404.9,829.4 L469.8,834" fill="none" stroke="#888" stroke-width="0.6" stroke-linejoin="round" stroke-dasharray="1,1"/><path d="M426.5,820.5 L469.8,811.8" fill="none" stroke="#999" stroke-width="0.5" stroke-linejoin="round"/><text class="b" x="552.4" y="597.2" font-size="13.5" text-anchor="middle" >min 560</text><text class="b" x="527.7" y="767.7" font-size="14.4" text-anchor="middle"  textLength="25.4" lengthAdjust="spacingAndGlyphs">560</text><text class="b" x="589.1" y="782.6" font-size="14.4" text-anchor="middle"  textLength="43.7" lengthAdjust="spacingAndGlyphs">583+2</text><text class="b" x="389.9" y="842.8" font-size="14.4" text-anchor="middle"  textLength="17.6" lengthAdjust="spacingAndGlyphs">40</text>
</svg>
</body></html>
